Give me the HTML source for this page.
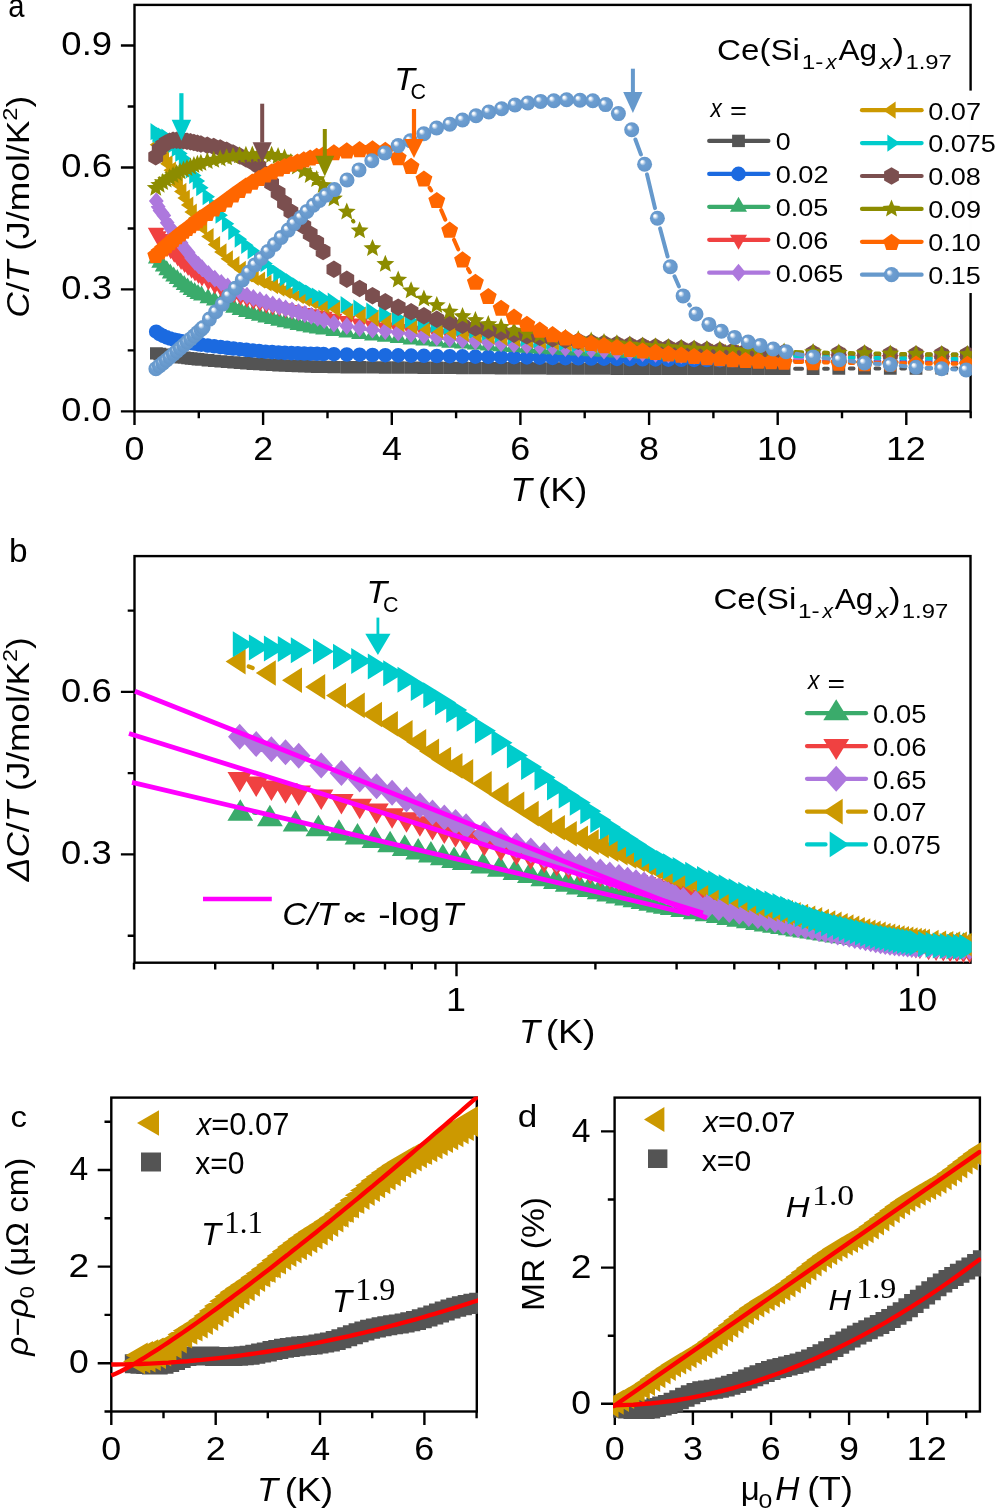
<!DOCTYPE html>
<html><head><meta charset="utf-8"><title>figure</title>
<style>html,body{margin:0;padding:0;background:#fff;}svg{display:block;}.tx{opacity:0.999}</style></head>
<body>
<svg width="1000" height="1509" viewBox="0 0 1000 1509" font-family="Liberation Sans, sans-serif" fill="#000">
<rect width="1000" height="1509" fill="#fff"/>
<defs>
<radialGradient id="sph" cx="0.5" cy="0.5" r="0.5" fx="0.3" fy="0.31"><stop offset="0" stop-color="#ffffff"/><stop offset="0.14" stop-color="#f6f9fc"/><stop offset="0.42" stop-color="#6d9ed1"/><stop offset="1" stop-color="#6496ca"/></radialGradient>
<clipPath id="ca"><rect x="133.3" y="3.7" width="838.6" height="408.9"/></clipPath>
<clipPath id="cb"><rect x="133.3" y="554.9" width="838.4" height="409"/></clipPath>
<clipPath id="cc"><rect x="110.1" y="1096.4" width="367.9" height="316.3"/></clipPath>
<clipPath id="cd"><rect x="613.0" y="1096.4" width="368.1" height="325"/></clipPath>
</defs>
<g fill="none" stroke="#000" stroke-width="2.4">
<rect x="134.5" y="4.9" width="836.1" height="406.5"/>
<path d="M134.5 411.4v13.6M198.8 411.4v6.8M263.1 411.4v13.6M327.5 411.4v6.8M391.8 411.4v13.6M456.1 411.4v6.8M520.4 411.4v13.6M584.7 411.4v6.8M649.1 411.4v13.6M713.4 411.4v6.8M777.7 411.4v13.6M842 411.4v6.8M906.3 411.4v13.6M970.7 411.4v6.8M134.5 411.4h-13.6M134.5 350.4h-6.8M134.5 289.4h-13.6M134.5 228.5h-6.8M134.5 167.5h-13.6M134.5 106.5h-6.8M134.5 45.5h-13.6"/>
</g>
<g fill="none" stroke="#000" stroke-width="2.4">
<rect x="134.5" y="556.1" width="836" height="406.6"/>
<path d="M134 962.7v6.8M215.2 962.7v6.8M272.9 962.7v6.8M317.6 962.7v6.8M354.1 962.7v6.8M385 962.7v6.8M411.8 962.7v6.8M435.4 962.7v6.8M456.5 962.7v13.6M595.4 962.7v6.8M676.6 962.7v6.8M734.3 962.7v6.8M779 962.7v6.8M815.5 962.7v6.8M846.4 962.7v6.8M873.2 962.7v6.8M896.8 962.7v6.8M917.9 962.7v13.6M134.5 935.7h-6.8M134.5 854.4h-13.6M134.5 773.1h-6.8M134.5 691.9h-13.6M134.5 610.6h-6.8"/>
</g>
<g fill="none" stroke="#000" stroke-width="2.4">
<rect x="111.3" y="1097.6" width="365.5" height="313.9"/>
<path d="M111.3 1411.5v13.6M163.5 1411.5v6.8M215.7 1411.5v13.6M267.8 1411.5v6.8M320 1411.5v13.6M372.2 1411.5v6.8M424.4 1411.5v13.6M476.6 1411.5v6.8M111.3 1411.5h-6.8M111.3 1363.2h-13.6M111.3 1314.9h-6.8M111.3 1266.6h-13.6M111.3 1218.3h-6.8M111.3 1170h-13.6M111.3 1121.7h-6.8"/>
</g>
<g fill="none" stroke="#000" stroke-width="2.4">
<rect x="614.6" y="1097.6" width="365.3" height="313.9"/>
<path d="M614.8 1411.5v13.6M653.8 1411.5v6.8M692.9 1411.5v13.6M731.9 1411.5v6.8M771 1411.5v13.6M810 1411.5v6.8M849.1 1411.5v13.6M888.1 1411.5v6.8M927.2 1411.5v13.6M966.2 1411.5v6.8M614.6 1403.8h-13.6M614.6 1335.7h-6.8M614.6 1267.6h-13.6M614.6 1199.5h-6.8M614.6 1131.4h-13.6"/>
</g>
<g clip-path="url(#ca)">
<path d="M795.1 368.7L802.1 368.7M824.1 368.7L827.8 368.7M849.8 368.6L853.5 368.6M875.5 368.6L879.3 368.6M901.3 368.5L905 368.5M927 368.4L930.7 368.4M952.7 368.4L956.4 368.3" fill="none" stroke="#545454" stroke-width="4" stroke-linecap="round"/>
<path d="M150 347.2h12.8v12.4h-12.8zM153.4 347.8h12.8v12.4h-12.8zM156.9 348.4h12.8v12.4h-12.8zM160.4 349h12.8v12.4h-12.8zM163.9 349.5h12.8v12.4h-12.8zM167.3 350h12.8v12.4h-12.8zM170.8 350.5h12.8v12.4h-12.8zM174.3 351h12.8v12.4h-12.8zM177.8 351.4h12.8v12.4h-12.8zM181.2 351.9h12.8v12.4h-12.8zM184.7 352.3h12.8v12.4h-12.8zM188.2 352.7h12.8v12.4h-12.8zM191.6 353.1h12.8v12.4h-12.8zM195.1 353.4h12.8v12.4h-12.8zM201.6 354.1h12.8v12.4h-12.8zM208 354.7h12.8v12.4h-12.8zM214.4 355.2h12.8v12.4h-12.8zM220.8 355.7h12.8v12.4h-12.8zM227.3 356.2h12.8v12.4h-12.8zM233.7 356.7h12.8v12.4h-12.8zM240.1 357.1h12.8v12.4h-12.8zM246.6 357.5h12.8v12.4h-12.8zM253 357.9h12.8v12.4h-12.8zM259.4 358.3h12.8v12.4h-12.8zM265.9 358.7h12.8v12.4h-12.8zM272.3 359h12.8v12.4h-12.8zM278.7 359.3h12.8v12.4h-12.8zM285.2 359.5h12.8v12.4h-12.8zM291.6 359.8h12.8v12.4h-12.8zM298 360.1h12.8v12.4h-12.8zM304.5 360.3h12.8v12.4h-12.8zM310.9 360.5h12.8v12.4h-12.8zM317.3 360.7h12.8v12.4h-12.8zM327.5 360.9h12.8v12.4h-12.8zM340.4 361h12.8v12.4h-12.8zM353.2 361.1h12.8v12.4h-12.8zM366.1 361.2h12.8v12.4h-12.8zM378.9 361.3h12.8v12.4h-12.8zM391.8 361.3h12.8v12.4h-12.8zM404.7 361.4h12.8v12.4h-12.8zM417.5 361.5h12.8v12.4h-12.8zM430.4 361.6h12.8v12.4h-12.8zM443.3 361.7h12.8v12.4h-12.8zM456.1 361.8h12.8v12.4h-12.8zM469 361.9h12.8v12.4h-12.8zM481.9 361.9h12.8v12.4h-12.8zM494.7 362h12.8v12.4h-12.8zM507.6 362.1h12.8v12.4h-12.8zM520.5 362.1h12.8v12.4h-12.8zM533.3 362.2h12.8v12.4h-12.8zM546.2 362.3h12.8v12.4h-12.8zM559 362.3h12.8v12.4h-12.8zM571.9 362.4h12.8v12.4h-12.8zM584.8 362.4h12.8v12.4h-12.8zM597.6 362.4h12.8v12.4h-12.8zM610.5 362.5h12.8v12.4h-12.8zM623.4 362.5h12.8v12.4h-12.8zM636.2 362.5h12.8v12.4h-12.8zM649.1 362.5h12.8v12.4h-12.8zM662 362.5h12.8v12.4h-12.8zM674.8 362.5h12.8v12.4h-12.8zM687.7 362.5h12.8v12.4h-12.8zM700.5 362.5h12.8v12.4h-12.8zM713.4 362.5h12.8v12.4h-12.8zM726.3 362.5h12.8v12.4h-12.8zM739.1 362.5h12.8v12.4h-12.8zM752 362.5h12.8v12.4h-12.8zM764.9 362.5h12.8v12.4h-12.8zM777.7 362.5h12.8v12.4h-12.8zM806.7 362.5h12.8v12.4h-12.8zM832.4 362.4h12.8v12.4h-12.8zM858.1 362.4h12.8v12.4h-12.8zM883.9 362.3h12.8v12.4h-12.8zM909.6 362.3h12.8v12.4h-12.8zM935.3 362.2h12.8v12.4h-12.8zM961 362.1h12.8v12.4h-12.8z" fill="#545454"/>
<path d="M795.1 360.6L802.1 360.7M824.1 360.7L827.8 360.8M849.8 360.8L853.5 360.8M875.5 360.9L879.3 360.9M901.3 360.9L905 360.9M927 361L930.7 361M952.7 361L956.4 361" fill="none" stroke="#1b6ae0" stroke-width="4" stroke-linecap="round"/>
<path d="M148.9 331.7a7.3 7.3 0 1 0 14.6 0a7.3 7.3 0 1 0 -14.6 0zM152.3 334a7.3 7.3 0 1 0 14.6 0a7.3 7.3 0 1 0 -14.6 0zM155.8 335.9a7.3 7.3 0 1 0 14.6 0a7.3 7.3 0 1 0 -14.6 0zM159.3 337.4a7.3 7.3 0 1 0 14.6 0a7.3 7.3 0 1 0 -14.6 0zM162.8 338.5a7.3 7.3 0 1 0 14.6 0a7.3 7.3 0 1 0 -14.6 0zM166.2 339.5a7.3 7.3 0 1 0 14.6 0a7.3 7.3 0 1 0 -14.6 0zM169.7 340.3a7.3 7.3 0 1 0 14.6 0a7.3 7.3 0 1 0 -14.6 0zM173.2 341a7.3 7.3 0 1 0 14.6 0a7.3 7.3 0 1 0 -14.6 0zM176.7 341.7a7.3 7.3 0 1 0 14.6 0a7.3 7.3 0 1 0 -14.6 0zM180.1 342.3a7.3 7.3 0 1 0 14.6 0a7.3 7.3 0 1 0 -14.6 0zM183.6 342.9a7.3 7.3 0 1 0 14.6 0a7.3 7.3 0 1 0 -14.6 0zM187.1 343.5a7.3 7.3 0 1 0 14.6 0a7.3 7.3 0 1 0 -14.6 0zM190.6 344.1a7.3 7.3 0 1 0 14.6 0a7.3 7.3 0 1 0 -14.6 0zM194 344.6a7.3 7.3 0 1 0 14.6 0a7.3 7.3 0 1 0 -14.6 0zM200.5 345.5a7.3 7.3 0 1 0 14.6 0a7.3 7.3 0 1 0 -14.6 0zM206.9 346.3a7.3 7.3 0 1 0 14.6 0a7.3 7.3 0 1 0 -14.6 0zM213.3 347a7.3 7.3 0 1 0 14.6 0a7.3 7.3 0 1 0 -14.6 0zM219.8 347.8a7.3 7.3 0 1 0 14.6 0a7.3 7.3 0 1 0 -14.6 0zM226.2 348.5a7.3 7.3 0 1 0 14.6 0a7.3 7.3 0 1 0 -14.6 0zM232.6 349.2a7.3 7.3 0 1 0 14.6 0a7.3 7.3 0 1 0 -14.6 0zM239.1 349.9a7.3 7.3 0 1 0 14.6 0a7.3 7.3 0 1 0 -14.6 0zM245.5 350.5a7.3 7.3 0 1 0 14.6 0a7.3 7.3 0 1 0 -14.6 0zM251.9 351.1a7.3 7.3 0 1 0 14.6 0a7.3 7.3 0 1 0 -14.6 0zM258.3 351.7a7.3 7.3 0 1 0 14.6 0a7.3 7.3 0 1 0 -14.6 0zM264.8 352.1a7.3 7.3 0 1 0 14.6 0a7.3 7.3 0 1 0 -14.6 0zM271.2 352.5a7.3 7.3 0 1 0 14.6 0a7.3 7.3 0 1 0 -14.6 0zM277.6 352.9a7.3 7.3 0 1 0 14.6 0a7.3 7.3 0 1 0 -14.6 0zM284.1 353.1a7.3 7.3 0 1 0 14.6 0a7.3 7.3 0 1 0 -14.6 0zM290.5 353.3a7.3 7.3 0 1 0 14.6 0a7.3 7.3 0 1 0 -14.6 0zM296.9 353.5a7.3 7.3 0 1 0 14.6 0a7.3 7.3 0 1 0 -14.6 0zM303.4 353.7a7.3 7.3 0 1 0 14.6 0a7.3 7.3 0 1 0 -14.6 0zM309.8 353.8a7.3 7.3 0 1 0 14.6 0a7.3 7.3 0 1 0 -14.6 0zM316.2 354a7.3 7.3 0 1 0 14.6 0a7.3 7.3 0 1 0 -14.6 0zM326.6 354.2a7.3 7.3 0 1 0 14.6 0a7.3 7.3 0 1 0 -14.6 0zM339.5 354.5a7.3 7.3 0 1 0 14.6 0a7.3 7.3 0 1 0 -14.6 0zM352.3 354.7a7.3 7.3 0 1 0 14.6 0a7.3 7.3 0 1 0 -14.6 0zM365.2 355a7.3 7.3 0 1 0 14.6 0a7.3 7.3 0 1 0 -14.6 0zM378 355.2a7.3 7.3 0 1 0 14.6 0a7.3 7.3 0 1 0 -14.6 0zM390.9 355.4a7.3 7.3 0 1 0 14.6 0a7.3 7.3 0 1 0 -14.6 0zM403.8 355.6a7.3 7.3 0 1 0 14.6 0a7.3 7.3 0 1 0 -14.6 0zM416.6 355.8a7.3 7.3 0 1 0 14.6 0a7.3 7.3 0 1 0 -14.6 0zM429.5 356a7.3 7.3 0 1 0 14.6 0a7.3 7.3 0 1 0 -14.6 0zM442.4 356.2a7.3 7.3 0 1 0 14.6 0a7.3 7.3 0 1 0 -14.6 0zM455.2 356.4a7.3 7.3 0 1 0 14.6 0a7.3 7.3 0 1 0 -14.6 0zM468.1 356.6a7.3 7.3 0 1 0 14.6 0a7.3 7.3 0 1 0 -14.6 0zM481 356.8a7.3 7.3 0 1 0 14.6 0a7.3 7.3 0 1 0 -14.6 0zM493.8 357a7.3 7.3 0 1 0 14.6 0a7.3 7.3 0 1 0 -14.6 0zM506.7 357.2a7.3 7.3 0 1 0 14.6 0a7.3 7.3 0 1 0 -14.6 0zM519.6 357.4a7.3 7.3 0 1 0 14.6 0a7.3 7.3 0 1 0 -14.6 0zM532.4 357.6a7.3 7.3 0 1 0 14.6 0a7.3 7.3 0 1 0 -14.6 0zM545.3 357.9a7.3 7.3 0 1 0 14.6 0a7.3 7.3 0 1 0 -14.6 0zM558.1 358.1a7.3 7.3 0 1 0 14.6 0a7.3 7.3 0 1 0 -14.6 0zM571 358.3a7.3 7.3 0 1 0 14.6 0a7.3 7.3 0 1 0 -14.6 0zM583.9 358.5a7.3 7.3 0 1 0 14.6 0a7.3 7.3 0 1 0 -14.6 0zM596.7 358.7a7.3 7.3 0 1 0 14.6 0a7.3 7.3 0 1 0 -14.6 0zM609.6 358.9a7.3 7.3 0 1 0 14.6 0a7.3 7.3 0 1 0 -14.6 0zM622.5 359.1a7.3 7.3 0 1 0 14.6 0a7.3 7.3 0 1 0 -14.6 0zM635.3 359.3a7.3 7.3 0 1 0 14.6 0a7.3 7.3 0 1 0 -14.6 0zM648.2 359.4a7.3 7.3 0 1 0 14.6 0a7.3 7.3 0 1 0 -14.6 0zM661.1 359.6a7.3 7.3 0 1 0 14.6 0a7.3 7.3 0 1 0 -14.6 0zM673.9 359.8a7.3 7.3 0 1 0 14.6 0a7.3 7.3 0 1 0 -14.6 0zM686.8 359.9a7.3 7.3 0 1 0 14.6 0a7.3 7.3 0 1 0 -14.6 0zM699.6 360a7.3 7.3 0 1 0 14.6 0a7.3 7.3 0 1 0 -14.6 0zM712.5 360.2a7.3 7.3 0 1 0 14.6 0a7.3 7.3 0 1 0 -14.6 0zM725.4 360.3a7.3 7.3 0 1 0 14.6 0a7.3 7.3 0 1 0 -14.6 0zM738.2 360.4a7.3 7.3 0 1 0 14.6 0a7.3 7.3 0 1 0 -14.6 0zM751.1 360.5a7.3 7.3 0 1 0 14.6 0a7.3 7.3 0 1 0 -14.6 0zM764 360.6a7.3 7.3 0 1 0 14.6 0a7.3 7.3 0 1 0 -14.6 0zM776.8 360.6a7.3 7.3 0 1 0 14.6 0a7.3 7.3 0 1 0 -14.6 0zM805.8 360.7a7.3 7.3 0 1 0 14.6 0a7.3 7.3 0 1 0 -14.6 0zM831.5 360.8a7.3 7.3 0 1 0 14.6 0a7.3 7.3 0 1 0 -14.6 0zM857.2 360.9a7.3 7.3 0 1 0 14.6 0a7.3 7.3 0 1 0 -14.6 0zM883 360.9a7.3 7.3 0 1 0 14.6 0a7.3 7.3 0 1 0 -14.6 0zM908.7 361a7.3 7.3 0 1 0 14.6 0a7.3 7.3 0 1 0 -14.6 0zM934.4 361a7.3 7.3 0 1 0 14.6 0a7.3 7.3 0 1 0 -14.6 0zM960.1 361a7.3 7.3 0 1 0 14.6 0a7.3 7.3 0 1 0 -14.6 0z" fill="#1b6ae0"/>
<path d="M795.1 354.7L802.1 354.8M824.1 355.1L827.8 355.1M849.8 355.4L853.5 355.4M875.5 355.6L879.3 355.6M901.3 355.8L905 355.8M927 355.9L930.7 355.9M952.7 356L956.4 356.1" fill="none" stroke="#3aab6b" stroke-width="4" stroke-linecap="round"/>
<path d="M156.4 248.6L164.9 263.6L147.9 263.6zM159.8 252.7L168.3 267.7L151.3 267.7zM163.3 256.6L171.8 271.6L154.8 271.6zM166.8 260.3L175.3 275.3L158.3 275.3zM170.3 263.6L178.8 278.6L161.8 278.6zM173.7 266.4L182.2 281.4L165.2 281.4zM177.2 269.1L185.7 284.1L168.7 284.1zM180.7 272.2L189.2 287.2L172.2 287.2zM184.2 275.1L192.7 290.1L175.7 290.1zM187.6 277.6L196.1 292.6L179.1 292.6zM191.1 279.9L199.6 294.9L182.6 294.9zM194.6 282L203.1 297L186.1 297zM198 284L206.5 299L189.5 299zM201.5 285.6L210 300.6L193 300.6zM208 288.2L216.5 303.2L199.5 303.2zM214.4 290.6L222.9 305.6L205.9 305.6zM220.8 293L229.3 308L212.3 308zM227.2 295.4L235.7 310.4L218.7 310.4zM233.7 297.7L242.2 312.7L225.2 312.7zM240.1 299.9L248.6 314.9L231.6 314.9zM246.5 301.9L255 316.9L238 316.9zM253 303.9L261.5 318.9L244.5 318.9zM259.4 305.7L267.9 320.7L250.9 320.7zM265.8 307.5L274.3 322.5L257.3 322.5zM272.3 309.1L280.8 324.1L263.8 324.1zM278.7 310.7L287.2 325.7L270.2 325.7zM285.1 312.2L293.6 327.2L276.6 327.2zM291.6 313.6L300.1 328.6L283.1 328.6zM298 314.9L306.5 329.9L289.5 329.9zM304.4 316.2L312.9 331.2L295.9 331.2zM310.9 317.4L319.4 332.4L302.4 332.4zM317.3 318.4L325.8 333.4L308.8 333.4zM323.7 319.4L332.2 334.4L315.2 334.4zM333.9 320.9L342.4 335.9L325.4 335.9zM346.8 322.5L355.3 337.5L338.3 337.5zM359.6 324L368.1 339L351.1 339zM372.5 325.4L381 340.4L364 340.4zM385.3 326.8L393.8 341.8L376.8 341.8zM398.2 328.1L406.7 343.1L389.7 343.1zM411.1 329.4L419.6 344.4L402.6 344.4zM423.9 330.5L432.4 345.5L415.4 345.5zM436.8 331.6L445.3 346.6L428.3 346.6zM449.7 332.7L458.2 347.7L441.2 347.7zM462.5 333.6L471 348.6L454 348.6zM475.4 334.5L483.9 349.5L466.9 349.5zM488.3 335.4L496.8 350.4L479.8 350.4zM501.1 336.2L509.6 351.2L492.6 351.2zM514 337L522.5 352L505.5 352zM526.9 337.8L535.4 352.8L518.4 352.8zM539.7 338.6L548.2 353.6L531.2 353.6zM552.6 339.3L561.1 354.3L544.1 354.3zM565.4 339.9L573.9 354.9L556.9 354.9zM578.3 340.6L586.8 355.6L569.8 355.6zM591.2 341.2L599.7 356.2L582.7 356.2zM604 341.8L612.5 356.8L595.5 356.8zM616.9 342.4L625.4 357.4L608.4 357.4zM629.8 342.9L638.3 357.9L621.3 357.9zM642.6 343.5L651.1 358.5L634.1 358.5zM655.5 344L664 359L647 359zM668.4 344.5L676.9 359.5L659.9 359.5zM681.2 344.9L689.7 359.9L672.7 359.9zM694.1 345.3L702.6 360.3L685.6 360.3zM706.9 345.6L715.4 360.6L698.4 360.6zM719.8 345.9L728.3 360.9L711.3 360.9zM732.7 346.2L741.2 361.2L724.2 361.2zM745.5 346.4L754 361.4L737 361.4zM758.4 346.7L766.9 361.7L749.9 361.7zM771.3 346.9L779.8 361.9L762.8 361.9zM784.1 347.1L792.6 362.1L775.6 362.1zM813.1 347.5L821.6 362.5L804.6 362.5zM838.8 347.8L847.3 362.8L830.3 362.8zM864.5 348L873 363L856 363zM890.3 348.2L898.8 363.2L881.8 363.2zM916 348.4L924.5 363.4L907.5 363.4zM941.7 348.5L950.2 363.5L933.2 363.5zM967.4 348.6L975.9 363.6L958.9 363.6z" fill="#3aab6b"/>
<path d="M795.1 360.6L802.1 360.8M824.1 361.4L827.8 361.5M849.8 361.9L853.5 362M875.5 362.4L879.3 362.4M901.3 362.8L905 362.8M927 363.1L930.7 363.1M952.7 363.3L956.4 363.3" fill="none" stroke="#f04141" stroke-width="4" stroke-linecap="round"/>
<path d="M156.3 242.7L164.8 227.7L147.8 227.7zM158.2 246.3L166.7 231.3L149.7 231.3zM160 249.1L168.5 234.1L151.5 234.1zM161.9 251.3L170.4 236.3L153.4 236.3zM163.8 252.9L172.3 237.9L155.3 237.9zM167.2 255.8L175.7 240.8L158.7 240.8zM170.7 259.3L179.2 244.3L162.2 244.3zM174.2 262.8L182.7 247.8L165.7 247.8zM177.7 266.5L186.2 251.5L169.2 251.5zM181.1 270L189.6 255L172.6 255zM184.6 273.1L193.1 258.1L176.1 258.1zM188.1 276L196.6 261L179.6 261zM191.6 278.8L200.1 263.8L183.1 263.8zM195 281.5L203.5 266.5L186.5 266.5zM198.5 284.1L207 269.1L190 269.1zM202 286.5L210.5 271.5L193.5 271.5zM208.4 290.6L216.9 275.6L199.9 275.6zM214.8 294.4L223.3 279.4L206.3 279.4zM221.3 297.7L229.8 282.7L212.8 282.7zM227.7 300.7L236.2 285.7L219.2 285.7zM234.1 303.3L242.6 288.3L225.6 288.3zM240.6 305.7L249.1 290.7L232.1 290.7zM247 307.9L255.5 292.9L238.5 292.9zM253.4 310L261.9 295L244.9 295zM259.9 311.9L268.4 296.9L251.4 296.9zM266.3 313.7L274.8 298.7L257.8 298.7zM272.7 315.4L281.2 300.4L264.2 300.4zM279.2 317.1L287.7 302.1L270.7 302.1zM285.6 318.6L294.1 303.6L277.1 303.6zM292 320.1L300.5 305.1L283.5 305.1zM298.5 321.5L307 306.5L290 306.5zM304.9 322.9L313.4 307.9L296.4 307.9zM311.3 324.2L319.8 309.2L302.8 309.2zM317.7 325.5L326.2 310.5L309.2 310.5zM324.2 326.8L332.7 311.8L315.7 311.8zM333.9 328.7L342.4 313.7L325.4 313.7zM346.8 331.1L355.3 316.1L338.3 316.1zM359.6 333.5L368.1 318.5L351.1 318.5zM372.5 335.6L381 320.6L364 320.6zM385.3 337.4L393.8 322.4L376.8 322.4zM398.2 339.1L406.7 324.1L389.7 324.1zM411.1 340.7L419.6 325.7L402.6 325.7zM423.9 342.2L432.4 327.2L415.4 327.2zM436.8 343.7L445.3 328.7L428.3 328.7zM449.7 345.1L458.2 330.1L441.2 330.1zM462.5 346.4L471 331.4L454 331.4zM475.4 347.6L483.9 332.6L466.9 332.6zM488.3 348.9L496.8 333.9L479.8 333.9zM501.1 350L509.6 335L492.6 335zM514 351.2L522.5 336.2L505.5 336.2zM526.9 352.2L535.4 337.2L518.4 337.2zM539.7 353.3L548.2 338.3L531.2 338.3zM552.6 354.3L561.1 339.3L544.1 339.3zM565.4 355.3L573.9 340.3L556.9 340.3zM578.3 356.2L586.8 341.2L569.8 341.2zM591.2 357.2L599.7 342.2L582.7 342.2zM604 358.1L612.5 343.1L595.5 343.1zM616.9 359L625.4 344L608.4 344zM629.8 359.9L638.3 344.9L621.3 344.9zM642.6 360.8L651.1 345.8L634.1 345.8zM655.5 361.6L664 346.6L647 346.6zM668.4 362.4L676.9 347.4L659.9 347.4zM681.2 363.2L689.7 348.2L672.7 348.2zM694.1 363.9L702.6 348.9L685.6 348.9zM706.9 364.5L715.4 349.5L698.4 349.5zM719.8 365.1L728.3 350.1L711.3 350.1zM732.7 365.7L741.2 350.7L724.2 350.7zM745.5 366.2L754 351.2L737 351.2zM758.4 366.8L766.9 351.8L749.9 351.8zM771.3 367.3L779.8 352.3L762.8 352.3zM784.1 367.7L792.6 352.7L775.6 352.7zM813.1 368.6L821.6 353.6L804.6 353.6zM838.8 369.2L847.3 354.2L830.3 354.2zM864.5 369.7L873 354.7L856 354.7zM890.3 370.1L898.8 355.1L881.8 355.1zM916 370.5L924.5 355.5L907.5 355.5zM941.7 370.7L950.2 355.7L933.2 355.7zM967.4 370.9L975.9 355.9L958.9 355.9z" fill="#f04141"/>
<path d="M795.1 357.7L802.1 357.8M824.1 358L827.8 358M849.8 358.2L853.5 358.2M875.5 358.4L879.3 358.4M901.3 358.6L905 358.6M927 358.7L930.7 358.8M952.7 358.9L956.4 358.9" fill="none" stroke="#ad78dd" stroke-width="4" stroke-linecap="round"/>
<path d="M156.3 192.2L163.7 201.1L156.3 210L148.9 201.1zM158.2 197.8L165.6 206.7L158.2 215.6L150.8 206.7zM160 201.6L167.4 210.5L160 219.4L152.6 210.5zM161.9 203.9L169.3 212.8L161.9 221.7L154.5 212.8zM163.8 206.5L171.2 215.4L163.8 224.3L156.4 215.4zM167.2 213.8L174.6 222.7L167.2 231.6L159.8 222.7zM170.7 219.4L178.1 228.3L170.7 237.2L163.3 228.3zM174.2 224.3L181.6 233.2L174.2 242.1L166.8 233.2zM177.7 229.4L185.1 238.3L177.7 247.2L170.3 238.3zM181.1 234.2L188.5 243.1L181.1 252L173.7 243.1zM184.6 239.4L192 248.3L184.6 257.2L177.2 248.3zM188.1 243.7L195.5 252.6L188.1 261.5L180.7 252.6zM191.6 249L199 257.9L191.6 266.8L184.2 257.9zM195 252.9L202.4 261.8L195 270.7L187.6 261.8zM198.5 256.1L205.9 265L198.5 273.9L191.1 265zM202 259.3L209.4 268.2L202 277.1L194.6 268.2zM208.4 265L215.8 273.9L208.4 282.8L201 273.9zM214.8 269.8L222.2 278.7L214.8 287.6L207.4 278.7zM221.3 273.9L228.7 282.8L221.3 291.7L213.9 282.8zM227.7 277.6L235.1 286.5L227.7 295.4L220.3 286.5zM234.1 281L241.5 289.9L234.1 298.8L226.7 289.9zM240.6 284L248 292.9L240.6 301.8L233.2 292.9zM247 286.7L254.4 295.6L247 304.5L239.6 295.6zM253.4 289.1L260.8 298L253.4 306.9L246 298zM259.9 291.3L267.3 300.2L259.9 309.1L252.5 300.2zM266.3 293.5L273.7 302.4L266.3 311.3L258.9 302.4zM272.7 295.5L280.1 304.4L272.7 313.3L265.3 304.4zM279.2 297.6L286.6 306.5L279.2 315.4L271.8 306.5zM285.6 299.5L293 308.4L285.6 317.3L278.2 308.4zM292 301.4L299.4 310.3L292 319.2L284.6 310.3zM298.5 303.2L305.9 312.1L298.5 321L291.1 312.1zM304.9 305.1L312.3 314L304.9 322.9L297.5 314zM311.3 307L318.7 315.9L311.3 324.8L303.9 315.9zM317.7 309L325.1 317.9L317.7 326.8L310.3 317.9zM324.2 311.3L331.6 320.2L324.2 329.1L316.8 320.2zM333.9 314.7L341.3 323.6L333.9 332.5L326.5 323.6zM346.8 317.2L354.2 326.1L346.8 335L339.4 326.1zM359.6 319.2L367 328.1L359.6 337L352.2 328.1zM372.5 320.8L379.9 329.7L372.5 338.6L365.1 329.7zM385.3 322.2L392.7 331.1L385.3 340L377.9 331.1zM398.2 323.6L405.6 332.5L398.2 341.4L390.8 332.5zM411.1 325.2L418.5 334.1L411.1 343L403.7 334.1zM423.9 326.8L431.3 335.7L423.9 344.6L416.5 335.7zM436.8 328.4L444.2 337.3L436.8 346.2L429.4 337.3zM449.7 329.9L457.1 338.8L449.7 347.7L442.3 338.8zM462.5 331.2L469.9 340.1L462.5 349L455.1 340.1zM475.4 332.3L482.8 341.2L475.4 350.1L468 341.2zM488.3 333.5L495.7 342.4L488.3 351.3L480.9 342.4zM501.1 334.5L508.5 343.4L501.1 352.3L493.7 343.4zM514 335.5L521.4 344.4L514 353.3L506.6 344.4zM526.9 336.4L534.3 345.3L526.9 354.2L519.5 345.3zM539.7 337.3L547.1 346.2L539.7 355.1L532.3 346.2zM552.6 338.2L560 347.1L552.6 356L545.2 347.1zM565.4 339.1L572.8 348L565.4 356.9L558 348zM578.3 339.9L585.7 348.8L578.3 357.7L570.9 348.8zM591.2 340.8L598.6 349.7L591.2 358.6L583.8 349.7zM604 341.7L611.4 350.6L604 359.5L596.6 350.6zM616.9 342.6L624.3 351.5L616.9 360.4L609.5 351.5zM629.8 343.4L637.2 352.3L629.8 361.2L622.4 352.3zM642.6 344.3L650 353.2L642.6 362.1L635.2 353.2zM655.5 345L662.9 353.9L655.5 362.8L648.1 353.9zM668.4 345.7L675.8 354.6L668.4 363.5L661 354.6zM681.2 346.3L688.6 355.2L681.2 364.1L673.8 355.2zM694.1 346.9L701.5 355.8L694.1 364.7L686.7 355.8zM706.9 347.3L714.3 356.2L706.9 365.1L699.5 356.2zM719.8 347.6L727.2 356.5L719.8 365.4L712.4 356.5zM732.7 347.9L740.1 356.8L732.7 365.7L725.3 356.8zM745.5 348.1L752.9 357L745.5 365.9L738.1 357zM758.4 348.3L765.8 357.2L758.4 366.1L751 357.2zM771.3 348.5L778.7 357.4L771.3 366.3L763.9 357.4zM784.1 348.7L791.5 357.6L784.1 366.5L776.7 357.6zM813.1 349L820.5 357.9L813.1 366.8L805.7 357.9zM838.8 349.2L846.2 358.1L838.8 367L831.4 358.1zM864.5 349.4L871.9 358.3L864.5 367.2L857.1 358.3zM890.3 349.6L897.7 358.5L890.3 367.4L882.9 358.5zM916 349.8L923.4 358.7L916 367.6L908.6 358.7zM941.7 349.9L949.1 358.8L941.7 367.7L934.3 358.8zM967.4 350L974.8 358.9L967.4 367.8L960 358.9z" fill="#ad78dd"/>
<path d="M795.1 355.1L802.1 355.3M824.1 355.8L827.8 355.9M849.8 356.2L853.5 356.3M875.5 356.6L879.3 356.6M901.3 356.9L905 356.9M927 357.1L930.7 357.1M952.7 357.2L956.4 357.3" fill="none" stroke="#cc9900" stroke-width="4" stroke-linecap="round"/>
<path d="M149.7 144.7L162.1 136.1L162.1 153.3zM153.1 153.3L165.5 144.7L165.5 161.9zM156.6 158.7L169 150.1L169 167.3zM160.1 163.7L172.5 155.1L172.5 172.3zM163.5 170.2L175.9 161.6L175.9 178.8zM167 177.6L179.4 169L179.4 186.2zM170.5 184.4L182.9 175.8L182.9 193zM174 191.4L186.4 182.8L186.4 200zM177.4 198.1L189.8 189.5L189.8 206.7zM180.9 205L193.3 196.4L193.3 213.6zM184.4 212L196.8 203.4L196.8 220.6zM187.9 218.2L200.3 209.6L200.3 226.8zM191.3 223L203.7 214.4L203.7 231.6zM194.8 227.5L207.2 218.9L207.2 236.1zM201.2 236.5L213.6 227.9L213.6 245.1zM207.7 244.6L220.1 236L220.1 253.2zM214.1 251.9L226.5 243.3L226.5 260.5zM220.5 258.8L232.9 250.2L232.9 267.4zM227 264.6L239.4 256L239.4 273.2zM233.4 269.4L245.8 260.8L245.8 278zM239.8 274L252.2 265.4L252.2 282.6zM246.3 277.3L258.7 268.7L258.7 285.9zM252.7 280.2L265.1 271.6L265.1 288.8zM259.1 283L271.5 274.4L271.5 291.6zM265.6 285.6L278 277L278 294.2zM272 288.1L284.4 279.5L284.4 296.7zM278.4 290.6L290.8 282L290.8 299.2zM284.9 293.1L297.3 284.5L297.3 301.7zM291.3 295.6L303.7 287L303.7 304.2zM297.7 298.3L310.1 289.7L310.1 306.9zM304.2 300.9L316.6 292.3L316.6 309.5zM310.6 303.4L323 294.8L323 312zM317 305.6L329.4 297L329.4 314.2zM327.7 308.6L340.1 300L340.1 317.2zM340.6 311.9L353 303.3L353 320.5zM353.4 315.1L365.8 306.5L365.8 323.7zM366.3 318.1L378.7 309.5L378.7 326.7zM379.1 320.9L391.5 312.3L391.5 329.5zM392 323.6L404.4 315L404.4 332.2zM404.9 326.2L417.3 317.6L417.3 334.8zM417.7 328.4L430.1 319.8L430.1 337zM430.6 330.2L443 321.6L443 338.8zM443.5 331.8L455.9 323.2L455.9 340.4zM456.3 333.3L468.7 324.7L468.7 341.9zM469.2 334.7L481.6 326.1L481.6 343.3zM482.1 336.1L494.5 327.5L494.5 344.7zM494.9 337.3L507.3 328.7L507.3 345.9zM507.8 338.6L520.2 330L520.2 347.2zM520.7 339.8L533.1 331.2L533.1 348.4zM533.5 340.9L545.9 332.3L545.9 349.5zM546.4 342L558.8 333.4L558.8 350.6zM559.2 343L571.6 334.4L571.6 351.6zM572.1 344L584.5 335.4L584.5 352.6zM585 345L597.4 336.4L597.4 353.6zM597.8 346L610.2 337.4L610.2 354.6zM610.7 346.9L623.1 338.3L623.1 355.5zM623.6 347.8L636 339.2L636 356.4zM636.4 348.7L648.8 340.1L648.8 357.3zM649.3 349.5L661.7 340.9L661.7 358.1zM662.2 350.3L674.6 341.7L674.6 358.9zM675 351L687.4 342.4L687.4 359.6zM687.9 351.6L700.3 343L700.3 360.2zM700.7 352.2L713.1 343.6L713.1 360.8zM713.6 352.7L726 344.1L726 361.3zM726.5 353.2L738.9 344.6L738.9 361.8zM739.3 353.7L751.7 345.1L751.7 362.3zM752.2 354.1L764.6 345.5L764.6 362.7zM765.1 354.5L777.5 345.9L777.5 363.1zM777.9 354.9L790.3 346.3L790.3 363.5zM806.9 355.6L819.3 347L819.3 364.2zM832.6 356.1L845 347.5L845 364.7zM858.3 356.4L870.7 347.8L870.7 365zM884.1 356.7L896.5 348.1L896.5 365.3zM909.8 357L922.2 348.4L922.2 365.6zM935.5 357.2L947.9 348.6L947.9 365.8zM961.2 357.3L973.6 348.7L973.6 365.9z" fill="#cc9900"/>
<path d="M795.1 356.1L802.1 356.3M824.1 356.9L827.8 357M849.8 357.5L853.5 357.5M875.5 357.9L879.3 358M901.3 358.3L905 358.3M927 358.6L930.7 358.6M952.7 358.8L956.4 358.9" fill="none" stroke="#00cccc" stroke-width="4" stroke-linecap="round"/>
<path d="M162.9 131.7L150.5 123.1L150.5 140.3zM164.8 134.1L152.4 125.5L152.4 142.7zM166.6 134.9L154.2 126.3L154.2 143.5zM168.5 135.3L156.1 126.7L156.1 143.9zM170.4 136.2L158 127.6L158 144.8zM173.8 137.2L161.4 128.6L161.4 145.8zM177.3 141L164.9 132.4L164.9 149.6zM180.8 144.4L168.4 135.8L168.4 153zM184.2 148.4L171.8 139.8L171.8 157zM187.7 153.4L175.3 144.8L175.3 162zM191.2 158.4L178.8 149.8L178.8 167zM194.7 164.4L182.3 155.8L182.3 173zM198.1 170L185.7 161.4L185.7 178.6zM201.6 175.5L189.2 166.9L189.2 184.1zM205.1 181.1L192.7 172.5L192.7 189.7zM208.6 187.7L196.2 179.1L196.2 196.3zM215 196.7L202.6 188.1L202.6 205.3zM221.4 205.6L209 197L209 214.2zM227.9 215.2L215.5 206.6L215.5 223.8zM234.3 223.8L221.9 215.2L221.9 232.4zM240.7 231.6L228.3 223L228.3 240.2zM247.1 239.2L234.7 230.6L234.7 247.8zM253.6 245.3L241.2 236.7L241.2 253.9zM260 250.7L247.6 242.1L247.6 259.3zM266.4 257.1L254 248.5L254 265.7zM272.9 263.7L260.5 255.1L260.5 272.3zM279.3 269L266.9 260.4L266.9 277.6zM285.7 273.6L273.3 265L273.3 282.2zM292.2 277.8L279.8 269.2L279.8 286.4zM298.6 281.9L286.2 273.3L286.2 290.5zM305 285.9L292.6 277.3L292.6 294.5zM311.5 289.7L299.1 281.1L299.1 298.3zM317.9 293L305.5 284.4L305.5 301.6zM324.3 296L311.9 287.4L311.9 304.6zM330.8 298.3L318.4 289.7L318.4 306.9zM340.1 301.2L327.7 292.6L327.7 309.8zM353 304.7L340.6 296.1L340.6 313.3zM365.8 308L353.4 299.4L353.4 316.6zM378.7 311.1L366.3 302.5L366.3 319.7zM391.5 314.1L379.1 305.5L379.1 322.7zM404.4 317.1L392 308.5L392 325.7zM417.3 319.8L404.9 311.2L404.9 328.4zM430.1 322.2L417.7 313.6L417.7 330.8zM443 324.3L430.6 315.7L430.6 332.9zM455.9 326.3L443.5 317.7L443.5 334.9zM468.7 328.2L456.3 319.6L456.3 336.8zM481.6 330.3L469.2 321.7L469.2 338.9zM494.5 332.3L482.1 323.7L482.1 340.9zM507.3 334.4L494.9 325.8L494.9 343zM520.2 336.3L507.8 327.7L507.8 344.9zM533.1 338.1L520.7 329.5L520.7 346.7zM545.9 339.8L533.5 331.2L533.5 348.4zM558.8 341.4L546.4 332.8L546.4 350zM571.6 342.7L559.2 334.1L559.2 351.3zM584.5 343.9L572.1 335.3L572.1 352.5zM597.4 345.1L585 336.5L585 353.7zM610.2 346.2L597.8 337.6L597.8 354.8zM623.1 347.2L610.7 338.6L610.7 355.8zM636 348.1L623.6 339.5L623.6 356.7zM648.8 349L636.4 340.4L636.4 357.6zM661.7 349.8L649.3 341.2L649.3 358.4zM674.6 350.6L662.2 342L662.2 359.2zM687.4 351.4L675 342.8L675 360zM700.3 352L687.9 343.4L687.9 360.6zM713.1 352.7L700.7 344.1L700.7 361.3zM726 353.3L713.6 344.7L713.6 361.9zM738.9 353.8L726.5 345.2L726.5 362.4zM751.7 354.4L739.3 345.8L739.3 363zM764.6 354.9L752.2 346.3L752.2 363.5zM777.5 355.4L765.1 346.8L765.1 364zM790.3 355.8L777.9 347.2L777.9 364.4zM819.3 356.7L806.9 348.1L806.9 365.3zM845 357.3L832.6 348.7L832.6 365.9zM870.7 357.7L858.3 349.1L858.3 366.3zM896.5 358.1L884.1 349.5L884.1 366.7zM922.2 358.5L909.8 349.9L909.8 367.1zM947.9 358.8L935.5 350.2L935.5 367.4zM973.6 358.9L961.2 350.3L961.2 367.5z" fill="#00cccc"/>
<path d="M795.1 352.8L802.1 352.9M824.1 353.3L827.8 353.3M849.8 353.6L853.5 353.7M875.5 353.9L879.3 354M901.3 354.2L905 354.2M927 354.4L930.7 354.4M952.7 354.5L956.4 354.5" fill="none" stroke="#7b4f4f" stroke-width="4" stroke-linecap="round"/>
<path d="M155.7 148.1L163.1 152.5L163.1 161.3L155.7 165.6L148.3 161.3L148.3 152.5zM159.2 140.5L166.6 144.9L166.6 153.7L159.2 158L151.8 153.7L151.8 144.9zM162.7 136.9L170.1 141.2L170.1 150L162.7 154.4L155.3 150L155.3 141.2zM166.1 134.2L173.5 138.6L173.5 147.4L166.1 151.7L158.7 147.4L158.7 138.6zM169.6 132.5L177 136.9L177 145.6L169.6 150L162.2 145.6L162.2 136.9zM173.1 131.6L180.5 136L180.5 144.7L173.1 149.1L165.7 144.7L165.7 136zM176.6 131.5L184 135.9L184 144.6L176.6 149L169.2 144.6L169.2 135.9zM180 131.8L187.4 136.1L187.4 144.9L180 149.3L172.6 144.9L172.6 136.1zM183.5 132.1L190.9 136.5L190.9 145.2L183.5 149.6L176.1 145.2L176.1 136.5zM187 132.5L194.4 136.9L194.4 145.6L187 150L179.6 145.6L179.6 136.9zM190.5 133.1L197.9 137.5L197.9 146.2L190.5 150.6L183.1 146.2L183.1 137.5zM193.9 133.8L201.3 138.2L201.3 147L193.9 151.3L186.5 147L186.5 138.2zM197.4 134.6L204.8 139L204.8 147.7L197.4 152.1L190 147.7L190 139zM200.9 135.3L208.3 139.7L208.3 148.4L200.9 152.8L193.5 148.4L193.5 139.7zM207.3 136.5L214.7 140.8L214.7 149.6L207.3 154L199.9 149.6L199.9 140.8zM213.7 137.7L221.1 142.1L221.1 150.8L213.7 155.2L206.3 150.8L206.3 142.1zM220.2 139.2L227.6 143.6L227.6 152.4L220.2 156.7L212.8 152.4L212.8 143.6zM226.6 141.4L234 145.8L234 154.5L226.6 158.9L219.2 154.5L219.2 145.8zM233 144.2L240.4 148.5L240.4 157.3L233 161.7L225.6 157.3L225.6 148.5zM239.5 147.1L246.9 151.5L246.9 160.2L239.5 164.6L232.1 160.2L232.1 151.5zM245.9 150L253.3 154.4L253.3 163.1L245.9 167.5L238.5 163.1L238.5 154.4zM252.3 153.3L259.7 157.7L259.7 166.4L252.3 170.8L244.9 166.4L244.9 157.7zM258.8 157.6L266.2 162L266.2 170.7L258.8 175.1L251.4 170.7L251.4 162zM265.2 165L272.6 169.4L272.6 178.1L265.2 182.5L257.8 178.1L257.8 169.4zM271.6 174.5L279 178.9L279 187.7L271.6 192L264.2 187.7L264.2 178.9zM278.1 184.2L285.5 188.5L285.5 197.3L278.1 201.7L270.7 197.3L270.7 188.5zM284.5 194.3L291.9 198.7L291.9 207.5L284.5 211.8L277.1 207.5L277.1 198.7zM290.9 203L298.3 207.4L298.3 216.1L290.9 220.5L283.5 216.1L283.5 207.4zM297.4 210.3L304.8 214.6L304.8 223.4L297.4 227.8L290 223.4L290 214.6zM303.8 217.4L311.2 221.7L311.2 230.5L303.8 234.9L296.4 230.5L296.4 221.7zM310.2 225.2L317.6 229.6L317.6 238.4L310.2 242.7L302.8 238.4L302.8 229.6zM316.7 233.6L324.1 238L324.1 246.8L316.7 251.1L309.3 246.8L309.3 238zM323.1 242.7L330.5 247.1L330.5 255.9L323.1 260.2L315.7 255.9L315.7 247.1zM333.9 260.6L341.3 265L341.3 273.8L333.9 278.1L326.5 273.8L326.5 265zM346.8 270.5L354.2 274.9L354.2 283.6L346.8 288L339.4 283.6L339.4 274.9zM359.6 279.7L367 284L367 292.8L359.6 297.2L352.2 292.8L352.2 284zM372.5 286.9L379.9 291.3L379.9 300.1L372.5 304.4L365.1 300.1L365.1 291.3zM385.3 293L392.7 297.4L392.7 306.2L385.3 310.5L377.9 306.2L377.9 297.4zM398.2 298.4L405.6 302.8L405.6 311.5L398.2 315.9L390.8 311.5L390.8 302.8zM411.1 303.1L418.5 307.5L418.5 316.2L411.1 320.6L403.7 316.2L403.7 307.5zM423.9 307.1L431.3 311.5L431.3 320.2L423.9 324.6L416.5 320.2L416.5 311.5zM436.8 310.6L444.2 314.9L444.2 323.7L436.8 328.1L429.4 323.7L429.4 314.9zM449.7 313.7L457.1 318.1L457.1 326.8L449.7 331.2L442.3 326.8L442.3 318.1zM462.5 316.5L469.9 320.9L469.9 329.7L462.5 334L455.1 329.7L455.1 320.9zM475.4 319.1L482.8 323.5L482.8 332.2L475.4 336.6L468 332.2L468 323.5zM488.3 321.4L495.7 325.8L495.7 334.5L488.3 338.9L480.9 334.5L480.9 325.8zM501.1 323.5L508.5 327.9L508.5 336.6L501.1 341L493.7 336.6L493.7 327.9zM514 325.4L521.4 329.7L521.4 338.5L514 342.9L506.6 338.5L506.6 329.7zM526.9 327L534.3 331.4L534.3 340.2L526.9 344.5L519.5 340.2L519.5 331.4zM539.7 328.5L547.1 332.9L547.1 341.7L539.7 346L532.3 341.7L532.3 332.9zM552.6 329.9L560 334.3L560 343L552.6 347.4L545.2 343L545.2 334.3zM565.4 331.2L572.8 335.6L572.8 344.3L565.4 348.7L558 344.3L558 335.6zM578.3 332.4L585.7 336.8L585.7 345.5L578.3 349.9L570.9 345.5L570.9 336.8zM591.2 333.5L598.6 337.9L598.6 346.6L591.2 351L583.8 346.6L583.8 337.9zM604 334.5L611.4 338.9L611.4 347.6L604 352L596.6 347.6L596.6 338.9zM616.9 335.5L624.3 339.8L624.3 348.6L616.9 353L609.5 348.6L609.5 339.8zM629.8 336.3L637.2 340.7L637.2 349.5L629.8 353.8L622.4 349.5L622.4 340.7zM642.6 337.2L650 341.6L650 350.3L642.6 354.7L635.2 350.3L635.2 341.6zM655.5 338L662.9 342.4L662.9 351.1L655.5 355.5L648.1 351.1L648.1 342.4zM668.4 338.8L675.8 343.2L675.8 351.9L668.4 356.3L661 351.9L661 343.2zM681.2 339.6L688.6 344L688.6 352.7L681.2 357.1L673.8 352.7L673.8 344zM694.1 340.3L701.5 344.7L701.5 353.5L694.1 357.8L686.7 353.5L686.7 344.7zM706.9 341.1L714.3 345.4L714.3 354.2L706.9 358.6L699.5 354.2L699.5 345.4zM719.8 341.7L727.2 346.1L727.2 354.8L719.8 359.2L712.4 354.8L712.4 346.1zM732.7 342.3L740.1 346.7L740.1 355.4L732.7 359.8L725.3 355.4L725.3 346.7zM745.5 342.8L752.9 347.2L752.9 355.9L745.5 360.3L738.1 355.9L738.1 347.2zM758.4 343.2L765.8 347.6L765.8 356.4L758.4 360.7L751 356.4L751 347.6zM771.3 343.6L778.7 347.9L778.7 356.7L771.3 361.1L763.9 356.7L763.9 347.9zM784.1 343.8L791.5 348.2L791.5 356.9L784.1 361.3L776.7 356.9L776.7 348.2zM813.1 344.3L820.5 348.7L820.5 357.5L813.1 361.8L805.7 357.5L805.7 348.7zM838.8 344.7L846.2 349.1L846.2 357.9L838.8 362.2L831.4 357.9L831.4 349.1zM864.5 345.1L871.9 349.5L871.9 358.2L864.5 362.6L857.1 358.2L857.1 349.5zM890.3 345.4L897.7 349.7L897.7 358.5L890.3 362.9L882.9 358.5L882.9 349.7zM916 345.6L923.4 349.9L923.4 358.7L916 363.1L908.6 358.7L908.6 349.9zM941.7 345.7L949.1 350.1L949.1 358.8L941.7 363.2L934.3 358.8L934.3 350.1zM967.4 345.7L974.8 350.1L974.8 358.9L967.4 363.2L960 358.9L960 350.1z" fill="#7b4f4f"/>
<path d="M353 220.9L353.4 221.5M795.1 352L802.1 352.2M824.1 352.6L827.8 352.7M849.8 353.1L853.5 353.2M875.5 353.5L879.3 353.6M901.3 353.9L905 353.9M927 354.2L930.7 354.2M952.7 354.4L956.4 354.4" fill="none" stroke="#8c8c00" stroke-width="4" stroke-linecap="round"/>
<path d="M155.7 178.7L158.2 184.7L164.7 185.2L159.7 189.4L161.3 195.7L155.7 192.3L150.2 195.7L151.7 189.4L146.8 185.2L153.3 184.7zM159.2 175.7L161.7 181.7L168.1 182.2L163.2 186.4L164.7 192.8L159.2 189.3L153.7 192.8L155.2 186.4L150.3 182.2L156.7 181.7zM162.7 173.1L165.1 179.1L171.6 179.6L166.7 183.8L168.2 190.1L162.7 186.7L157.1 190.1L158.7 183.8L153.7 179.6L160.2 179.1zM166.1 170.6L168.6 176.6L175.1 177.1L170.1 181.3L171.7 187.6L166.1 184.2L160.6 187.6L162.2 181.3L157.2 177.1L163.7 176.6zM169.6 168.3L172.1 174.3L178.6 174.8L173.6 179L175.1 185.3L169.6 181.9L164.1 185.3L165.6 179L160.7 174.8L167.2 174.3zM173.1 166.1L175.6 172.1L182 172.6L177.1 176.8L178.6 183.1L173.1 179.7L167.6 183.1L169.1 176.8L164.2 172.6L170.6 172.1zM176.6 164L179 170L185.5 170.5L180.6 174.7L182.1 181.1L176.6 177.6L171 181.1L172.6 174.7L167.6 170.5L174.1 170zM180 162.2L182.5 168.2L189 168.7L184 172.9L185.6 179.2L180 175.8L174.5 179.2L176 172.9L171.1 168.7L177.6 168.2zM183.5 160.5L186 166.5L192.5 167L187.5 171.2L189 177.5L183.5 174.1L178 177.5L179.5 171.2L174.6 167L181 166.5zM187 158.9L189.5 164.9L195.9 165.4L191 169.6L192.5 175.9L187 172.5L181.5 175.9L183 169.6L178 165.4L184.5 164.9zM190.5 157.4L192.9 163.4L199.4 163.9L194.5 168.1L196 174.4L190.5 171L184.9 174.4L186.5 168.1L181.5 163.9L188 163.4zM193.9 156L196.4 162L202.9 162.5L197.9 166.7L199.5 173L193.9 169.6L188.4 173L189.9 166.7L185 162.5L191.5 162zM197.4 154.8L199.9 160.8L206.3 161.3L201.4 165.5L202.9 171.8L197.4 168.4L191.9 171.8L193.4 165.5L188.5 161.3L194.9 160.8zM200.9 153.8L203.3 159.8L209.8 160.3L204.9 164.5L206.4 170.8L200.9 167.4L195.4 170.8L196.9 164.5L191.9 160.3L198.4 159.8zM207.3 152.1L209.8 158.1L216.3 158.6L211.3 162.8L212.8 169.1L207.3 165.7L201.8 169.1L203.3 162.8L198.4 158.6L204.8 158.1zM213.7 150.8L216.2 156.8L222.7 157.3L217.7 161.5L219.3 167.8L213.7 164.4L208.2 167.8L209.7 161.5L204.8 157.3L211.3 156.8zM220.2 149.5L222.6 155.5L229.1 156L224.2 160.2L225.7 166.5L220.2 163.1L214.6 166.5L216.2 160.2L211.2 156L217.7 155.5zM226.6 148.3L229.1 154.3L235.5 154.7L230.6 159L232.1 165.3L226.6 161.9L221.1 165.3L222.6 159L217.7 154.7L224.1 154.3zM233 147.1L235.5 153.1L242 153.6L237 157.8L238.6 164.1L233 160.7L227.5 164.1L229 157.8L224.1 153.6L230.6 153.1zM239.5 146.3L241.9 152.3L248.4 152.8L243.5 157L245 163.3L239.5 159.9L233.9 163.3L235.5 157L230.5 152.8L237 152.3zM245.9 145.8L248.4 151.8L254.8 152.3L249.9 156.5L251.4 162.8L245.9 159.4L240.4 162.8L241.9 156.5L237 152.3L243.4 151.8zM252.3 145.4L254.8 151.4L261.3 151.9L256.3 156.1L257.9 162.4L252.3 159L246.8 162.4L248.3 156.1L243.4 151.9L249.9 151.4zM258.8 145.1L261.2 151.1L267.7 151.6L262.8 155.8L264.3 162.1L258.8 158.7L253.2 162.1L254.8 155.8L249.8 151.6L256.3 151.1zM265.2 145.1L267.7 151.1L274.1 151.6L269.2 155.8L270.7 162.1L265.2 158.7L259.7 162.1L261.2 155.8L256.3 151.6L262.7 151.1zM271.6 145.7L274.1 151.7L280.6 152.2L275.6 156.4L277.2 162.7L271.6 159.3L266.1 162.7L267.6 156.4L262.7 152.2L269.2 151.7zM278.1 146.9L280.5 152.9L287 153.4L282.1 157.6L283.6 163.9L278.1 160.5L272.5 163.9L274.1 157.6L269.1 153.4L275.6 152.9zM284.5 148.6L287 154.6L293.4 155.1L288.5 159.3L290 165.6L284.5 162.2L279 165.6L280.5 159.3L275.6 155.1L282 154.6zM290.9 152.9L293.4 158.9L299.9 159.4L294.9 163.6L296.5 169.9L290.9 166.5L285.4 169.9L286.9 163.6L282 159.4L288.5 158.9zM297.4 157.5L299.8 163.5L306.3 164L301.4 168.2L302.9 174.5L297.4 171.1L291.8 174.5L293.4 168.2L288.4 164L294.9 163.5zM303.8 162L306.3 168L312.7 168.5L307.8 172.7L309.3 179L303.8 175.6L298.3 179L299.8 172.7L294.9 168.5L301.3 168zM310.2 165.9L312.7 171.9L319.2 172.4L314.2 176.6L315.7 182.9L310.2 179.5L304.7 182.9L306.2 176.6L301.3 172.4L307.8 171.9zM316.7 169.9L319.1 175.9L325.6 176.4L320.6 180.6L322.2 186.9L316.7 183.5L311.1 186.9L312.7 180.6L307.7 176.4L314.2 175.9zM323.1 176.1L325.6 182.1L332 182.6L327.1 186.8L328.6 193.1L323.1 189.7L317.6 193.1L319.1 186.8L314.1 182.6L320.6 182.1zM333.9 189.3L336.4 195.3L342.8 195.8L337.9 200L339.4 206.3L333.9 202.9L328.4 206.3L329.9 200L325 195.8L331.4 195.3zM346.8 202.4L349.2 208.5L355.7 208.9L350.8 213.1L352.3 219.5L346.8 216L341.2 219.5L342.8 213.1L337.8 208.9L344.3 208.5zM359.6 221.2L362.1 227.2L368.6 227.7L363.6 231.9L365.1 238.2L359.6 234.8L354.1 238.2L355.6 231.9L350.7 227.7L357.2 227.2zM372.5 239L375 245L381.4 245.5L376.5 249.7L378 256L372.5 252.6L367 256L368.5 249.7L363.5 245.5L370 245zM385.3 254.8L387.8 260.8L394.3 261.3L389.3 265.5L390.9 271.8L385.3 268.4L379.8 271.8L381.4 265.5L376.4 261.3L382.9 260.8zM398.2 270.4L400.7 276.4L407.2 276.9L402.2 281.1L403.7 287.5L398.2 284L392.7 287.5L394.2 281.1L389.3 276.9L395.7 276.4zM411.1 281.3L413.5 287.3L420 287.7L415.1 292L416.6 298.3L411.1 294.9L405.6 298.3L407.1 292L402.1 287.7L408.6 287.3zM423.9 289.4L426.4 295.4L432.9 295.9L427.9 300.1L429.5 306.4L423.9 303L418.4 306.4L419.9 300.1L415 295.9L421.5 295.4zM436.8 295.9L439.3 301.9L445.7 302.4L440.8 306.6L442.3 312.9L436.8 309.5L431.3 312.9L432.8 306.6L427.9 302.4L434.3 301.9zM449.7 302.4L452.1 308.4L458.6 308.9L453.7 313.1L455.2 319.4L449.7 316L444.1 319.4L445.7 313.1L440.7 308.9L447.2 308.4zM462.5 307.1L465 313.1L471.5 313.6L466.5 317.8L468.1 324.1L462.5 320.7L457 324.1L458.5 317.8L453.6 313.6L460.1 313.1zM475.4 311.1L477.9 317.1L484.3 317.6L479.4 321.8L480.9 328.1L475.4 324.7L469.9 328.1L471.4 321.8L466.5 317.6L472.9 317.1zM488.3 315L490.7 321L497.2 321.5L492.3 325.7L493.8 332L488.3 328.6L482.7 332L484.3 325.7L479.3 321.5L485.8 321zM501.1 317.7L503.6 323.7L510.1 324.2L505.1 328.4L506.6 334.7L501.1 331.3L495.6 334.7L497.1 328.4L492.2 324.2L498.7 323.7zM514 321.6L516.5 327.6L522.9 328.1L518 332.3L519.5 338.6L514 335.2L508.5 338.6L510 332.3L505 328.1L511.5 327.6zM526.9 324L529.3 330L535.8 330.5L530.8 334.7L532.4 341L526.9 337.6L521.3 341L522.9 334.7L517.9 330.5L524.4 330zM539.7 325.8L542.2 331.9L548.7 332.3L543.7 336.5L545.2 342.9L539.7 339.4L534.2 342.9L535.7 336.5L530.8 332.3L537.2 331.9zM552.6 327.4L555 333.4L561.5 333.9L556.6 338.1L558.1 344.4L552.6 341L547.1 344.4L548.6 338.1L543.6 333.9L550.1 333.4zM565.4 328.8L567.9 334.8L574.4 335.3L569.4 339.5L571 345.8L565.4 342.4L559.9 345.8L561.4 339.5L556.5 335.3L563 334.8zM578.3 330.2L580.8 336.2L587.2 336.7L582.3 340.9L583.8 347.2L578.3 343.8L572.8 347.2L574.3 340.9L569.4 336.7L575.8 336.2zM591.2 331.6L593.6 337.6L600.1 338.1L595.2 342.3L596.7 348.6L591.2 345.2L585.6 348.6L587.2 342.3L582.2 338.1L588.7 337.6zM604 333L606.5 339L613 339.5L608 343.7L609.6 350L604 346.6L598.5 350L600 343.7L595.1 339.5L601.6 339zM616.9 334.3L619.4 340.3L625.8 340.8L620.9 345L622.4 351.3L616.9 347.9L611.4 351.3L612.9 345L608 340.8L614.4 340.3zM629.8 335.5L632.2 341.5L638.7 342L633.8 346.2L635.3 352.5L629.8 349.1L624.2 352.5L625.8 346.2L620.8 342L627.3 341.5zM642.6 336.5L645.1 342.5L651.6 343L646.6 347.2L648.2 353.5L642.6 350.1L637.1 353.5L638.6 347.2L633.7 343L640.2 342.5zM655.5 337.3L658 343.3L664.4 343.8L659.5 348L661 354.3L655.5 350.9L650 354.3L651.5 348L646.6 343.8L653 343.3zM668.4 338.1L670.8 344.1L677.3 344.6L672.4 348.8L673.9 355.1L668.4 351.7L662.8 355.1L664.4 348.8L659.4 344.6L665.9 344.1zM681.2 338.8L683.7 344.8L690.2 345.3L685.2 349.5L686.7 355.8L681.2 352.4L675.7 355.8L677.2 349.5L672.3 345.3L678.8 344.8zM694.1 339.4L696.6 345.4L703 345.9L698.1 350.1L699.6 356.4L694.1 353L688.6 356.4L690.1 350.1L685.1 345.9L691.6 345.4zM706.9 340L709.4 346L715.9 346.4L710.9 350.6L712.5 357L706.9 353.6L701.4 357L703 350.6L698 346.4L704.5 346zM719.8 340.5L722.3 346.5L728.8 347L723.8 351.2L725.3 357.5L719.8 354.1L714.3 357.5L715.8 351.2L710.9 347L717.3 346.5zM732.7 340.9L735.1 346.9L741.6 347.4L736.7 351.6L738.2 357.9L732.7 354.5L727.2 357.9L728.7 351.6L723.7 347.4L730.2 346.9zM745.5 341.4L748 347.4L754.5 347.9L749.5 352.1L751.1 358.4L745.5 355L740 358.4L741.5 352.1L736.6 347.9L743.1 347.4zM758.4 341.7L760.9 347.7L767.3 348.2L762.4 352.4L763.9 358.7L758.4 355.3L752.9 358.7L754.4 352.4L749.5 348.2L755.9 347.7zM771.3 342.1L773.7 348.1L780.2 348.6L775.3 352.8L776.8 359.1L771.3 355.7L765.7 359.1L767.3 352.8L762.3 348.6L768.8 348.1zM784.1 342.4L786.6 348.4L793.1 348.9L788.1 353.1L789.7 359.4L784.1 356L778.6 359.4L780.1 353.1L775.2 348.9L781.7 348.4zM813.1 343L815.5 349L822 349.5L817.1 353.7L818.6 360L813.1 356.6L807.6 360L809.1 353.7L804.1 349.5L810.6 349zM838.8 343.5L841.3 349.5L847.7 350L842.8 354.2L844.3 360.5L838.8 357.1L833.3 360.5L834.8 354.2L829.9 350L836.3 349.5zM864.5 344L867 350L873.5 350.5L868.5 354.7L870.1 361L864.5 357.6L859 361L860.5 354.7L855.6 350.5L862.1 350zM890.3 344.4L892.7 350.4L899.2 350.8L894.3 355L895.8 361.4L890.3 358L884.7 361.4L886.3 355L881.3 350.8L887.8 350.4zM916 344.7L918.5 350.7L924.9 351.2L920 355.4L921.5 361.7L916 358.3L910.5 361.7L912 355.4L907 351.2L913.5 350.7zM941.7 344.9L944.2 350.9L950.7 351.4L945.7 355.6L947.2 361.9L941.7 358.5L936.2 361.9L937.7 355.6L932.8 351.4L939.2 350.9zM967.4 345.1L969.9 351.1L976.4 351.6L971.4 355.8L973 362.1L967.4 358.7L961.9 362.1L963.4 355.8L958.5 351.6L965 351.1z" fill="#8c8c00"/>
<path d="M429.6 187.9L431.2 190.5M441.2 210.1L445.3 219.6M454 239.8L458.2 249.3M468 268.9L469.9 272.2M795.1 361.9L802.1 362M824.1 362.5L827.8 362.5M849.8 362.9L853.5 362.9M875.5 363.2L879.3 363.3M901.3 363.5L905 363.5M927 363.7L930.7 363.7M952.7 363.8L956.4 363.8" fill="none" stroke="#ff6600" stroke-width="4" stroke-linecap="round"/>
<path d="M155.7 246.8L164.2 253L161 262.9L150.5 262.9L147.3 253zM159.2 243.5L167.7 249.7L164.4 259.6L154 259.6L150.7 249.7zM162.7 240.3L171.1 246.4L167.9 256.4L157.4 256.4L154.2 246.4zM166.1 237.1L174.6 243.3L171.4 253.2L160.9 253.2L157.7 243.3zM169.6 234.1L178.1 240.2L174.9 250.2L164.4 250.2L161.2 240.2zM173.1 231.1L181.6 237.2L178.3 247.2L167.9 247.2L164.6 237.2zM176.6 228.2L185 234.3L181.8 244.3L171.3 244.3L168.1 234.3zM180 225.3L188.5 231.5L185.3 241.4L174.8 241.4L171.6 231.5zM183.5 222.6L192 228.7L188.7 238.7L178.3 238.7L175 228.7zM187 219.9L195.4 226L192.2 236L181.8 236L178.5 226zM190.5 217.2L198.9 223.4L195.7 233.3L185.2 233.3L182 223.4zM193.9 214.6L202.4 220.8L199.2 230.7L188.7 230.7L185.5 220.8zM197.4 212.1L205.9 218.2L202.6 228.2L192.2 228.2L188.9 218.2zM200.9 209.5L209.3 215.7L206.1 225.6L195.6 225.6L192.4 215.7zM207.3 204.9L215.8 211L212.5 221L202.1 221L198.8 211zM213.7 200.4L222.2 206.5L219 216.5L208.5 216.5L205.3 206.5zM220.2 195.9L228.6 202.1L225.4 212L214.9 212L211.7 202.1zM226.6 191.3L235.1 197.5L231.8 207.4L221.4 207.4L218.1 197.5zM233 186.5L241.5 192.7L238.3 202.6L227.8 202.6L224.6 192.7zM239.5 181.9L247.9 188L244.7 198L234.2 198L231 188zM245.9 177.5L254.4 183.6L251.1 193.6L240.7 193.6L237.4 183.6zM252.3 173.6L260.8 179.7L257.6 189.7L247.1 189.7L243.9 179.7zM258.8 170L267.2 176.1L264 186.1L253.5 186.1L250.3 176.1zM265.2 166.5L273.7 172.7L270.4 182.6L260 182.6L256.7 172.7zM271.6 163.4L280.1 169.5L276.9 179.5L266.4 179.5L263.2 169.5zM278.1 160.5L286.5 166.6L283.3 176.6L272.8 176.6L269.6 166.6zM284.5 157.9L293 164.1L289.7 174L279.3 174L276 164.1zM290.9 155.6L299.4 161.7L296.2 171.7L285.7 171.7L282.5 161.7zM297.4 153.4L305.8 159.5L302.6 169.5L292.1 169.5L288.9 159.5zM303.8 151.3L312.3 157.5L309 167.4L298.6 167.4L295.3 157.5zM310.2 149.5L318.7 155.6L315.5 165.6L305 165.6L301.8 155.6zM316.7 147.8L325.1 154L321.9 163.9L311.4 163.9L308.2 154zM323.1 146.4L331.6 152.5L328.3 162.5L317.9 162.5L314.6 152.5zM333.9 144.2L342.4 150.4L339.1 160.3L328.7 160.3L325.4 150.4zM346.8 142.3L355.2 148.4L352 158.4L341.5 158.4L338.3 148.4zM359.6 141.1L368.1 147.2L364.9 157.2L354.4 157.2L351.2 147.2zM372.5 140.3L380.9 146.5L377.7 156.4L367.3 156.4L364 146.5zM385.3 141.8L393.8 148L390.6 157.9L380.1 157.9L376.9 148zM398.2 149.1L406.7 155.3L403.4 165.2L393 165.2L389.7 155.3zM411.1 157.8L419.5 163.9L416.3 173.9L405.8 173.9L402.6 163.9zM423.9 170.4L432.4 176.5L429.2 186.5L418.7 186.5L415.5 176.5zM436.8 191.9L445.3 198.1L442 208L431.6 208L428.3 198.1zM449.7 221.6L458.1 227.8L454.9 237.7L444.4 237.7L441.2 227.8zM462.5 251.3L471 257.4L467.8 267.4L457.3 267.4L454.1 257.4zM475.4 273.7L483.9 279.8L480.6 289.8L470.2 289.8L466.9 279.8zM488.3 287.9L496.7 294L493.5 304L483 304L479.8 294zM501.1 299.7L509.6 305.8L506.4 315.8L495.9 315.8L492.7 305.8zM514 308.6L522.5 314.8L519.2 324.7L508.8 324.7L505.5 314.8zM526.9 315.7L535.3 321.8L532.1 331.8L521.6 331.8L518.4 321.8zM539.7 321.6L548.2 327.8L544.9 337.7L534.5 337.7L531.3 327.8zM552.6 326.1L561 332.3L557.8 342.2L547.3 342.2L544.1 332.3zM565.4 329.5L573.9 335.6L570.7 345.6L560.2 345.6L557 335.6zM578.3 332.4L586.8 338.6L583.5 348.5L573.1 348.5L569.8 338.6zM591.2 334.9L599.6 341.1L596.4 351L585.9 351L582.7 341.1zM604 337.1L612.5 343.3L609.3 353.2L598.8 353.2L595.6 343.3zM616.9 339.1L625.4 345.2L622.1 355.2L611.7 355.2L608.4 345.2zM629.8 340.8L638.2 347L635 356.9L624.5 356.9L621.3 347zM642.6 342.4L651.1 348.5L647.9 358.5L637.4 358.5L634.2 348.5zM655.5 343.8L664 350L660.7 359.9L650.3 359.9L647 350zM668.4 345.3L676.8 351.4L673.6 361.4L663.1 361.4L659.9 351.4zM681.2 346.6L689.7 352.8L686.5 362.7L676 362.7L672.8 352.8zM694.1 347.9L702.5 354L699.3 364L688.9 364L685.6 354zM706.9 349.1L715.4 355.2L712.2 365.2L701.7 365.2L698.5 355.2zM719.8 350.1L728.3 356.3L725 366.2L714.6 366.2L711.3 356.3zM732.7 351.1L741.1 357.2L737.9 367.2L727.4 367.2L724.2 357.2zM745.5 351.9L754 358.1L750.8 368L740.3 368L737.1 358.1zM758.4 352.6L766.9 358.8L763.6 368.7L753.2 368.7L749.9 358.8zM771.3 353.2L779.7 359.3L776.5 369.3L766 369.3L762.8 359.3zM784.1 353.6L792.6 359.7L789.4 369.7L778.9 369.7L775.7 359.7zM813.1 354.2L821.5 360.4L818.3 370.3L807.8 370.3L804.6 360.4zM838.8 354.7L847.3 360.8L844 370.8L833.6 370.8L830.3 360.8zM864.5 355.1L873 361.2L869.8 371.2L859.3 371.2L856.1 361.2zM890.3 355.4L898.7 361.5L895.5 371.5L885 371.5L881.8 361.5zM916 355.6L924.5 361.7L921.2 371.7L910.8 371.7L907.5 361.7zM941.7 355.7L950.2 361.9L946.9 371.8L936.5 371.8L933.3 361.9zM967.4 355.8L975.9 361.9L972.7 371.9L962.2 371.9L959 361.9z" fill="#ff6600"/>
<path d="M635.4 139.5L640.9 154.4M647 174.4L655 208.1M660.1 228.4L667.6 256.5M674.5 276.3L678.9 286.3M689.2 304.5L689.9 305.4M796.4 353.8L802.8 355M823.5 358L829 358.6M849.9 361.1L854.1 361.7M875 363.7L879.8 364M900.7 365.7L905.5 366.2M926.5 367.9L931.2 368.1M952.2 369.2L955.7 369.4" fill="none" stroke="#6699cc" stroke-width="4" stroke-linecap="round"/>
<circle cx="155.9" cy="368.7" r="7.5" fill="url(#sph)"/>
<circle cx="159.4" cy="365.9" r="7.5" fill="url(#sph)"/>
<circle cx="162.9" cy="363.1" r="7.5" fill="url(#sph)"/>
<circle cx="166.3" cy="360.2" r="7.5" fill="url(#sph)"/>
<circle cx="169.8" cy="357.3" r="7.5" fill="url(#sph)"/>
<circle cx="173.3" cy="354.3" r="7.5" fill="url(#sph)"/>
<circle cx="176.8" cy="351.3" r="7.5" fill="url(#sph)"/>
<circle cx="180.2" cy="348.3" r="7.5" fill="url(#sph)"/>
<circle cx="183.7" cy="345.2" r="7.5" fill="url(#sph)"/>
<circle cx="187.2" cy="342" r="7.5" fill="url(#sph)"/>
<circle cx="190.7" cy="338.9" r="7.5" fill="url(#sph)"/>
<circle cx="194.1" cy="335.8" r="7.5" fill="url(#sph)"/>
<circle cx="197.6" cy="332.6" r="7.5" fill="url(#sph)"/>
<circle cx="201.1" cy="329.4" r="7.5" fill="url(#sph)"/>
<circle cx="203.1" cy="327.5" r="7.5" fill="url(#sph)"/>
<circle cx="209.4" cy="319.1" r="7.5" fill="url(#sph)"/>
<circle cx="215.7" cy="311.8" r="7.5" fill="url(#sph)"/>
<circle cx="222.3" cy="304.1" r="7.5" fill="url(#sph)"/>
<circle cx="228.7" cy="295.7" r="7.5" fill="url(#sph)"/>
<circle cx="235.3" cy="288.3" r="7.5" fill="url(#sph)"/>
<circle cx="242.3" cy="279.9" r="7.5" fill="url(#sph)"/>
<circle cx="248.6" cy="272.2" r="7.5" fill="url(#sph)"/>
<circle cx="254.9" cy="264.9" r="7.5" fill="url(#sph)"/>
<circle cx="261.2" cy="258.5" r="7.5" fill="url(#sph)"/>
<circle cx="267.9" cy="251.5" r="7.5" fill="url(#sph)"/>
<circle cx="274.5" cy="244.5" r="7.5" fill="url(#sph)"/>
<circle cx="281.1" cy="237.4" r="7.5" fill="url(#sph)"/>
<circle cx="288.2" cy="230.1" r="7.5" fill="url(#sph)"/>
<circle cx="294" cy="223.6" r="7.5" fill="url(#sph)"/>
<circle cx="300.8" cy="217.5" r="7.5" fill="url(#sph)"/>
<circle cx="306.9" cy="211.4" r="7.5" fill="url(#sph)"/>
<circle cx="313.3" cy="205.3" r="7.5" fill="url(#sph)"/>
<circle cx="319.4" cy="200.4" r="7.5" fill="url(#sph)"/>
<circle cx="326" cy="195.1" r="7.5" fill="url(#sph)"/>
<circle cx="334.4" cy="189.6" r="7.5" fill="url(#sph)"/>
<circle cx="347" cy="180" r="7.5" fill="url(#sph)"/>
<circle cx="359" cy="169.9" r="7.5" fill="url(#sph)"/>
<circle cx="371.8" cy="160.8" r="7.5" fill="url(#sph)"/>
<circle cx="384.8" cy="153" r="7.5" fill="url(#sph)"/>
<circle cx="398.2" cy="145.6" r="7.5" fill="url(#sph)"/>
<circle cx="410.4" cy="140.8" r="7.5" fill="url(#sph)"/>
<circle cx="423.8" cy="133.8" r="7.5" fill="url(#sph)"/>
<circle cx="436.6" cy="128" r="7.5" fill="url(#sph)"/>
<circle cx="449.8" cy="124.2" r="7.5" fill="url(#sph)"/>
<circle cx="462.5" cy="120" r="7.5" fill="url(#sph)"/>
<circle cx="476" cy="115.8" r="7.5" fill="url(#sph)"/>
<circle cx="488.8" cy="112" r="7.5" fill="url(#sph)"/>
<circle cx="501.6" cy="108.8" r="7.5" fill="url(#sph)"/>
<circle cx="515" cy="105" r="7.5" fill="url(#sph)"/>
<circle cx="527.8" cy="103" r="7.5" fill="url(#sph)"/>
<circle cx="540.6" cy="101.4" r="7.5" fill="url(#sph)"/>
<circle cx="553.8" cy="100.8" r="7.5" fill="url(#sph)"/>
<circle cx="566.6" cy="99.8" r="7.5" fill="url(#sph)"/>
<circle cx="580" cy="100.2" r="7.5" fill="url(#sph)"/>
<circle cx="592.8" cy="100.8" r="7.5" fill="url(#sph)"/>
<circle cx="605.6" cy="104.6" r="7.5" fill="url(#sph)"/>
<circle cx="618.4" cy="113.6" r="7.5" fill="url(#sph)"/>
<circle cx="631.7" cy="129.7" r="7.5" fill="url(#sph)"/>
<circle cx="644.6" cy="164.2" r="7.5" fill="url(#sph)"/>
<circle cx="657.4" cy="218.3" r="7.5" fill="url(#sph)"/>
<circle cx="670.3" cy="266.7" r="7.5" fill="url(#sph)"/>
<circle cx="683.1" cy="295.9" r="7.5" fill="url(#sph)"/>
<circle cx="696" cy="314" r="7.5" fill="url(#sph)"/>
<circle cx="708.9" cy="324.4" r="7.5" fill="url(#sph)"/>
<circle cx="721.4" cy="331.3" r="7.5" fill="url(#sph)"/>
<circle cx="734.6" cy="337.4" r="7.5" fill="url(#sph)"/>
<circle cx="748.1" cy="342" r="7.5" fill="url(#sph)"/>
<circle cx="760.3" cy="345.4" r="7.5" fill="url(#sph)"/>
<circle cx="773.2" cy="349" r="7.5" fill="url(#sph)"/>
<circle cx="786.1" cy="351.8" r="7.5" fill="url(#sph)"/>
<circle cx="813.1" cy="356.9" r="7.5" fill="url(#sph)"/>
<circle cx="839.4" cy="359.8" r="7.5" fill="url(#sph)"/>
<circle cx="864.5" cy="363" r="7.5" fill="url(#sph)"/>
<circle cx="890.3" cy="364.6" r="7.5" fill="url(#sph)"/>
<circle cx="916" cy="367.3" r="7.5" fill="url(#sph)"/>
<circle cx="941.7" cy="368.7" r="7.5" fill="url(#sph)"/>
<circle cx="966.2" cy="369.9" r="7.5" fill="url(#sph)"/>
</g>
<rect x="179.3" y="93.2" width="4.2" height="27" fill="#00cccc"/>
<path d="M171.7 119.7L191.2 119.7L181.4 140.7z" fill="#00cccc"/>
<rect x="260.2" y="103.7" width="4" height="39" fill="#7b4f4f"/>
<path d="M252.6 142.2L271.8 142.2L262.2 162.6z" fill="#7b4f4f"/>
<rect x="322.8" y="129" width="4" height="27.3" fill="#8c8c00"/>
<path d="M315.3 155.8L334.3 155.8L324.8 176.4z" fill="#8c8c00"/>
<rect x="411.9" y="109" width="4.2" height="30.5" fill="#ff6600"/>
<path d="M404.4 139L423.6 139L414 158z" fill="#ff6600"/>
<rect x="630.9" y="68.7" width="4" height="23.9" fill="#6699cc"/>
<path d="M623.2 92.1L642.5 92.1L632.9 113z" fill="#6699cc"/>
<g clip-path="url(#cb)">
<path d="M254.1 812.6L256.1 812.9" fill="none" stroke="#3aab6b" stroke-width="4.25" stroke-linecap="round"/>
<path d="M240.3 799.2L253.2 820.7L227.4 820.7zM269.9 804.8L282.8 826.3L257 826.3zM295.6 809.9L308.5 831.4L282.7 831.4zM318.4 814.8L331.3 836.3L305.5 836.3zM338.9 819.2L351.8 840.7L326 840.7zM357.5 822.9L370.4 844.4L344.6 844.4zM374.5 826.6L387.4 848.1L361.6 848.1zM390.1 830.7L403 852.2L377.2 852.2zM404.7 834.6L417.6 856.1L391.8 856.1zM418.2 837.9L431.1 859.4L405.3 859.4zM430.9 840.9L443.8 862.4L418 862.4zM442.8 843.8L455.7 865.3L429.9 865.3zM454.1 846.4L467 867.9L441.2 867.9zM464.7 848.6L477.6 870.1L451.8 870.1zM483.1 852L496 873.5L470.2 873.5zM499.9 855.2L512.8 876.7L487 876.7zM515.4 858.4L528.3 879.9L502.5 879.9zM529.9 861.6L542.8 883.1L517 883.1zM543.3 864.7L556.2 886.2L530.4 886.2zM555.9 867.5L568.8 889L543 889zM567.7 870.2L580.6 891.7L554.8 891.7zM578.9 872.9L591.8 894.4L566 894.4zM589.5 875.4L602.4 896.9L576.6 896.9zM599.6 877.7L612.5 899.2L586.7 899.2zM609.1 879.9L622 901.4L596.2 901.4zM618.3 882L631.2 903.5L605.4 903.5zM627 883.9L639.9 905.4L614.1 905.4zM635.4 885.8L648.3 907.3L622.5 907.3zM643.5 887.6L656.4 909.1L630.6 909.1zM651.2 889.3L664.1 910.8L638.3 910.8zM658.6 890.9L671.5 912.4L645.7 912.4zM665.8 892.3L678.7 913.8L652.9 913.8zM672.7 893.6L685.6 915.1L659.8 915.1zM683.2 895.5L696.1 917L670.3 917zM695.7 897.7L708.6 919.2L682.8 919.2zM707.5 899.7L720.4 921.2L694.6 921.2zM718.7 901.6L731.6 923.1L705.8 923.1zM729.2 903.4L742.1 924.9L716.3 924.9zM739.2 905.2L752.1 926.7L726.3 926.7zM748.8 906.8L761.7 928.3L735.9 928.3zM757.9 908.4L770.8 929.9L745 929.9zM766.6 909.9L779.5 931.4L753.7 931.4zM775 911.2L787.9 932.7L762.1 932.7zM783 912.5L795.9 934L770.1 934zM790.7 913.7L803.6 935.2L777.8 935.2zM798.1 914.9L811 936.4L785.2 936.4zM805.3 916L818.2 937.5L792.4 937.5zM812.2 917.1L825.1 938.6L799.3 938.6zM818.9 918.1L831.8 939.6L806 939.6zM825.3 919.1L838.2 940.6L812.4 940.6zM831.6 920L844.5 941.5L818.7 941.5zM837.7 920.9L850.6 942.4L824.8 942.4zM843.5 921.8L856.4 943.3L830.6 943.3zM849.3 922.6L862.2 944.1L836.4 944.1zM854.8 923.4L867.7 944.9L841.9 944.9zM860.3 924.2L873.2 945.7L847.4 945.7zM865.5 924.9L878.4 946.4L852.6 946.4zM870.7 925.6L883.6 947.1L857.8 947.1zM875.7 926.3L888.6 947.8L862.8 947.8zM880.6 926.9L893.5 948.4L867.7 948.4zM885.3 927.5L898.2 949L872.4 949zM890 928L902.9 949.5L877.1 949.5zM894.6 928.5L907.5 950L881.7 950zM899 928.9L911.9 950.4L886.1 950.4zM903.4 929.3L916.3 950.8L890.5 950.8zM907.6 929.6L920.5 951.1L894.7 951.1zM911.8 929.9L924.7 951.4L898.9 951.4zM915.9 930.2L928.8 951.7L903 951.7zM919.9 930.5L932.8 952L907 952zM928.6 931L941.5 952.5L915.7 952.5zM936.1 931.4L949 952.9L923.2 952.9zM943.3 931.7L956.2 953.2L930.4 953.2zM950.2 931.9L963.1 953.4L937.3 953.4zM956.9 932.2L969.8 953.7L944 953.7zM963.4 932.3L976.3 953.8L950.5 953.8zM969.7 932.5L982.6 954L956.8 954z" fill="#3aab6b"/>
<path d="M239.7 792.4L252 771.9L227.5 771.9zM256.2 797.1L268.4 776.6L243.9 776.6zM271.4 800.9L283.6 780.4L259.1 780.4zM285.5 803.8L297.8 783.3L273.3 783.3zM298.7 806L311 785.5L286.5 785.5zM321.2 809.9L333.4 789.4L308.9 789.4zM341.4 814.5L353.6 794L329.1 794zM359.7 819.2L372 798.7L347.5 798.7zM376.6 824.1L388.8 803.6L364.3 803.6zM392.1 828.8L404.3 808.3L379.8 808.3zM406.5 832.8L418.7 812.3L394.2 812.3zM419.9 836.7L432.1 816.2L407.6 816.2zM432.5 840.5L444.7 820L420.2 820zM444.3 844.1L456.6 823.6L432.1 823.6zM455.5 847.6L467.8 827.1L443.3 827.1zM466.1 850.7L478.3 830.2L453.8 830.2zM484.3 856.2L496.6 835.7L472.1 835.7zM501.1 861.2L513.3 840.7L488.8 840.7zM516.5 865.7L528.7 845.2L504.2 845.2zM530.8 869.7L543.1 849.2L518.6 849.2zM544.2 873.2L556.4 852.7L531.9 852.7zM556.7 876.4L569 855.9L544.5 855.9zM568.5 879.3L580.8 858.8L556.3 858.8zM579.7 882L591.9 861.5L567.4 861.5zM590.2 884.6L602.5 864.1L578 864.1zM600.3 887L612.5 866.5L588 866.5zM609.8 889.3L622 868.8L597.5 868.8zM618.9 891.5L631.2 871L606.7 871zM627.6 893.5L639.9 873L615.4 873zM636 895.5L648.2 875L623.7 875zM644 897.4L656.3 876.9L631.8 876.9zM651.7 899.3L664 878.8L639.5 878.8zM659.1 901L671.4 880.5L646.9 880.5zM666.3 902.7L678.5 882.2L654 882.2zM673.2 904.4L685.5 883.9L661 883.9zM683.2 906.9L695.5 886.4L671 886.4zM695.7 910.2L708 889.7L683.5 889.7zM707.5 913.3L719.8 892.8L695.3 892.8zM718.7 916.1L730.9 895.6L706.4 895.6zM729.2 918.6L741.5 898.1L717 898.1zM739.2 920.9L751.5 900.4L727 900.4zM748.8 923L761 902.5L736.5 902.5zM757.9 925L770.1 904.5L745.6 904.5zM766.6 926.9L778.9 906.4L754.4 906.4zM775 928.8L787.2 908.3L762.7 908.3zM783 930.5L795.2 910L770.7 910zM790.7 932.2L802.9 911.7L778.4 911.7zM798.1 933.8L810.4 913.3L785.9 913.3zM805.3 935.4L817.5 914.9L793 914.9zM812.2 936.9L824.4 916.4L799.9 916.4zM818.9 938.3L831.1 917.8L806.6 917.8zM825.3 939.7L837.6 919.2L813.1 919.2zM831.6 941.1L843.8 920.6L819.3 920.6zM837.7 942.4L849.9 921.9L825.4 921.9zM843.5 943.7L855.8 923.2L831.3 923.2zM849.3 944.9L861.5 924.4L837 924.4zM854.8 946.1L867.1 925.6L842.6 925.6zM860.3 947.4L872.5 926.9L848 926.9zM865.5 948.6L877.8 928.1L853.3 928.1zM870.7 949.7L882.9 929.2L858.4 929.2zM875.7 950.9L887.9 930.4L863.4 930.4zM880.6 951.9L892.8 931.4L868.3 931.4zM885.3 952.9L897.6 932.4L873.1 932.4zM890 953.9L902.2 933.4L877.7 933.4zM894.6 954.7L906.8 934.2L882.3 934.2zM899 955.5L911.3 935L886.8 935zM903.4 956.3L915.6 935.8L891.1 935.8zM907.6 957L919.9 936.5L895.4 936.5zM911.8 957.7L924.1 937.2L899.6 937.2zM915.9 958.4L928.1 937.9L903.6 937.9zM919.9 959L932.1 938.5L907.6 938.5zM928.6 960.2L940.9 939.7L916.4 939.7zM936.1 961L948.3 940.5L923.8 940.5zM943.3 961.6L955.5 941.1L931 941.1zM950.2 962.2L962.5 941.7L938 941.7zM956.9 962.6L969.2 942.1L944.7 942.1zM963.4 963L975.7 942.5L951.2 942.5zM969.7 963.2L982 942.7L957.5 942.7z" fill="#f04141"/>
<path d="M239.7 723.7L251.5 736.7L239.7 749.7L228 736.7zM256.2 731.1L267.9 744.1L256.2 757.1L244.4 744.1zM271.4 736.2L283.1 749.2L271.4 762.2L259.6 749.2zM285.5 739.3L297.3 752.3L285.5 765.3L273.8 752.3zM298.7 742.7L310.5 755.7L298.7 768.7L287 755.7zM321.2 752.5L332.9 765.5L321.2 778.5L309.4 765.5zM341.4 760L353.1 773L341.4 786L329.6 773zM359.7 766.4L371.5 779.4L359.7 792.4L348 779.4zM376.6 773.3L388.3 786.3L376.6 799.3L364.8 786.3zM392.1 779.7L403.8 792.7L392.1 805.7L380.3 792.7zM406.5 786.6L418.2 799.6L406.5 812.6L394.7 799.6zM419.9 792.4L431.6 805.4L419.9 818.4L408.1 805.4zM432.5 799.4L444.2 812.4L432.5 825.4L420.7 812.4zM444.3 804.5L456.1 817.5L444.3 830.5L432.6 817.5zM455.5 808.9L467.3 821.9L455.5 834.9L443.8 821.9zM466.1 813.2L477.8 826.2L466.1 839.2L454.3 826.2zM484.3 820.7L496.1 833.7L484.3 846.7L472.6 833.7zM501.1 827L512.8 840L501.1 853L489.3 840zM516.5 832.6L528.2 845.6L516.5 858.6L504.7 845.6zM530.8 837.5L542.6 850.5L530.8 863.5L519.1 850.5zM544.2 842L555.9 855L544.2 868L532.4 855zM556.7 846L568.5 859L556.7 872L545 859zM568.5 849.6L580.3 862.6L568.5 875.6L556.8 862.6zM579.7 852.8L591.4 865.8L579.7 878.8L567.9 865.8zM590.2 855.8L602 868.8L590.2 881.8L578.5 868.8zM600.3 858.6L612 871.6L600.3 884.6L588.5 871.6zM609.8 861.4L621.5 874.4L609.8 887.4L598 874.4zM618.9 864.1L630.7 877.1L618.9 890.1L607.2 877.1zM627.6 866.7L639.4 879.7L627.6 892.7L615.9 879.7zM636 869.2L647.7 882.2L636 895.2L624.2 882.2zM644 871.6L655.8 884.6L644 897.6L632.3 884.6zM651.7 874.1L663.5 887.1L651.7 900.1L640 887.1zM659.1 876.7L670.9 889.7L659.1 902.7L647.4 889.7zM666.3 879.3L678 892.3L666.3 905.3L654.5 892.3zM673.2 882.3L685 895.3L673.2 908.3L661.5 895.3zM683.2 886.9L695 899.9L683.2 912.9L671.5 899.9zM695.7 890.3L707.5 903.3L695.7 916.3L684 903.3zM707.5 892.9L719.3 905.9L707.5 918.9L695.8 905.9zM718.7 895L730.4 908L718.7 921L706.9 908zM729.2 896.9L741 909.9L729.2 922.9L717.5 909.9zM739.2 898.8L751 911.8L739.2 924.8L727.5 911.8zM748.8 900.9L760.5 913.9L748.8 926.9L737 913.9zM757.9 903.1L769.6 916.1L757.9 929.1L746.1 916.1zM766.6 905.2L778.4 918.2L766.6 931.2L754.9 918.2zM775 907.1L786.7 920.1L775 933.1L763.2 920.1zM783 908.9L794.7 921.9L783 934.9L771.2 921.9zM790.7 910.4L802.4 923.4L790.7 936.4L778.9 923.4zM798.1 911.9L809.9 924.9L798.1 937.9L786.4 924.9zM805.3 913.3L817 926.3L805.3 939.3L793.5 926.3zM812.2 914.6L823.9 927.6L812.2 940.6L800.4 927.6zM818.9 915.9L830.6 928.9L818.9 941.9L807.1 928.9zM825.3 917.1L837.1 930.1L825.3 943.1L813.6 930.1zM831.6 918.2L843.3 931.2L831.6 944.2L819.8 931.2zM837.7 919.4L849.4 932.4L837.7 945.4L825.9 932.4zM843.5 920.5L855.3 933.5L843.5 946.5L831.8 933.5zM849.3 921.7L861 934.7L849.3 947.7L837.5 934.7zM854.8 922.9L866.6 935.9L854.8 948.9L843.1 935.9zM860.3 924.1L872 937.1L860.3 950.1L848.5 937.1zM865.5 925.2L877.3 938.2L865.5 951.2L853.8 938.2zM870.7 926.3L882.4 939.3L870.7 952.3L858.9 939.3zM875.7 927.3L887.4 940.3L875.7 953.3L863.9 940.3zM880.6 928.2L892.3 941.2L880.6 954.2L868.8 941.2zM885.3 929.1L897.1 942.1L885.3 955.1L873.6 942.1zM890 929.8L901.7 942.8L890 955.8L878.2 942.8zM894.6 930.3L906.3 943.3L894.6 956.3L882.8 943.3zM899 930.8L910.8 943.8L899 956.8L887.3 943.8zM903.4 931.1L915.1 944.1L903.4 957.1L891.6 944.1zM907.6 931.4L919.4 944.4L907.6 957.4L895.9 944.4zM911.8 931.7L923.6 944.7L911.8 957.7L900.1 944.7zM915.9 932L927.6 945L915.9 958L904.1 945zM919.9 932.2L931.6 945.2L919.9 958.2L908.1 945.2zM928.6 932.6L940.4 945.6L928.6 958.6L916.9 945.6zM936.1 932.9L947.8 945.9L936.1 958.9L924.3 945.9zM943.3 933.2L955 946.2L943.3 959.2L931.5 946.2zM950.2 933.5L962 946.5L950.2 959.5L938.5 946.5zM956.9 933.7L968.7 946.7L956.9 959.7L945.2 946.7zM963.4 933.9L975.2 946.9L963.4 959.9L951.7 946.9zM969.7 934L981.5 947L969.7 960L958 947z" fill="#ad78dd"/>
<path d="M248.7 666.5L252.7 668" fill="none" stroke="#cc9900" stroke-width="4.25" stroke-linecap="round"/>
<path d="M225.6 661.6L245.6 648.8L245.6 674.4zM255.8 673L275.8 660.2L275.8 685.8zM282 680.3L302 667.5L302 693.1zM305.2 686.9L325.2 674.1L325.2 699.7zM326 695.6L346 682.8L346 708.4zM344.8 705.4L364.8 692.6L364.8 718.2zM362 714.5L382 701.7L382 727.3zM377.9 723.8L397.9 711L397.9 736.6zM392.6 732.7L412.6 719.9L412.6 745.5zM406.2 741.9L426.2 729.1L426.2 754.7zM419.1 751.3L439.1 738.5L439.1 764.1zM431.1 759.5L451.1 746.7L451.1 772.3zM442.5 765.9L462.5 753.1L462.5 778.7zM453.2 771.9L473.2 759.1L473.2 784.7zM471.7 783.8L491.7 771L491.7 796.6zM488.6 794.7L508.6 781.9L508.6 807.5zM504.3 804.4L524.3 791.6L524.3 817.2zM518.7 813.6L538.7 800.8L538.7 826.4zM532.2 821.4L552.2 808.6L552.2 834.2zM544.9 827.8L564.9 815L564.9 840.6zM556.8 833.8L576.8 821L576.8 846.6zM568 838.2L588 825.4L588 851zM578.7 842.1L598.7 829.3L598.7 854.9zM588.8 845.8L608.8 833L608.8 858.6zM598.4 849.3L618.4 836.5L618.4 862.1zM607.6 852.6L627.6 839.8L627.6 865.4zM616.3 855.9L636.3 843.1L636.3 868.7zM624.8 859.3L644.8 846.5L644.8 872.1zM632.8 862.6L652.8 849.8L652.8 875.4zM640.6 866.2L660.6 853.4L660.6 879zM648 869.7L668 856.9L668 882.5zM655.2 873L675.2 860.2L675.2 885.8zM662.2 875.9L682.2 863.1L682.2 888.7zM673.2 880L693.2 867.2L693.2 892.8zM685.7 884.3L705.7 871.5L705.7 897.1zM697.5 888.6L717.5 875.8L717.5 901.4zM708.7 892.6L728.7 879.8L728.7 905.4zM719.2 896.4L739.2 883.6L739.2 909.2zM729.2 900L749.2 887.2L749.2 912.8zM738.8 903.3L758.8 890.5L758.8 916.1zM747.9 906.3L767.9 893.5L767.9 919.1zM756.6 908.7L776.6 895.9L776.6 921.5zM765 910.8L785 898L785 923.6zM773 912.8L793 900L793 925.6zM780.7 914.7L800.7 901.9L800.7 927.5zM788.1 916.5L808.1 903.7L808.1 929.3zM795.3 918.2L815.3 905.4L815.3 931zM802.2 919.9L822.2 907.1L822.2 932.7zM808.9 921.5L828.9 908.7L828.9 934.3zM815.3 923L835.3 910.2L835.3 935.8zM821.6 924.4L841.6 911.6L841.6 937.2zM827.7 925.8L847.7 913L847.7 938.6zM833.5 927.1L853.5 914.3L853.5 939.9zM839.3 928.4L859.3 915.6L859.3 941.2zM844.8 929.7L864.8 916.9L864.8 942.5zM850.3 931L870.3 918.2L870.3 943.8zM855.5 932.2L875.5 919.4L875.5 945zM860.7 933.3L880.7 920.5L880.7 946.1zM865.7 934.4L885.7 921.6L885.7 947.2zM870.6 935.5L890.6 922.7L890.6 948.3zM875.3 936.4L895.3 923.6L895.3 949.2zM880 937.2L900 924.4L900 950zM884.6 938L904.6 925.2L904.6 950.8zM889 938.7L909 925.9L909 951.5zM893.4 939.3L913.4 926.5L913.4 952.1zM897.6 940L917.6 927.2L917.6 952.8zM901.8 940.6L921.8 927.8L921.8 953.4zM905.9 941.1L925.9 928.3L925.9 953.9zM909.9 941.6L929.9 928.8L929.9 954.4zM918.6 942.5L938.6 929.7L938.6 955.3zM926.1 943.2L946.1 930.4L946.1 956zM933.3 943.7L953.3 930.9L953.3 956.5zM940.2 944.1L960.2 931.3L960.2 956.9zM946.9 944.4L966.9 931.6L966.9 957.2zM953.4 944.7L973.4 931.9L973.4 957.5zM959.7 944.9L979.7 932.1L979.7 957.7z" fill="#cc9900"/>
<path d="M253.8 644.2L232.8 631.2L232.8 657.2zM269.9 647.4L248.9 634.4L248.9 660.4zM284.9 648.6L263.9 635.6L263.9 661.6zM298.8 649.1L277.8 636.1L277.8 662.1zM311.8 650.2L290.8 637.2L290.8 663.2zM334 651.6L313 638.6L313 664.6zM354 656.7L333 643.7L333 669.7zM372.2 661.1L351.2 648.1L351.2 674.1zM388.8 666.4L367.8 653.4L367.8 679.4zM404.2 673.2L383.2 660.2L383.2 686.2zM418.5 679.8L397.5 666.8L397.5 692.8zM431.8 687.9L410.8 674.9L410.8 700.9zM444.3 695.3L423.3 682.3L423.3 708.3zM456.1 702.6L435.1 689.6L435.1 715.6zM467.2 710.1L446.2 697.1L446.2 723.1zM477.7 718.8L456.7 705.8L456.7 731.8zM495.9 730.8L474.9 717.8L474.9 743.8zM512.5 742.7L491.5 729.7L491.5 755.7zM527.9 755.5L506.9 742.5L506.9 768.5zM542.1 767L521.1 754L521.1 780zM555.5 777.4L534.5 764.4L534.5 790.4zM568 787.5L547 774.5L547 800.5zM579.7 795.6L558.7 782.6L558.7 808.6zM590.8 802.8L569.8 789.8L569.8 815.8zM601.3 811.3L580.3 798.3L580.3 824.3zM611.3 820.1L590.3 807.1L590.3 833.1zM620.9 827.1L599.9 814.1L599.9 840.1zM629.9 833.3L608.9 820.3L608.9 846.3zM638.6 838.9L617.6 825.9L617.6 851.9zM647 844.4L626 831.4L626 857.4zM655 849.7L634 836.7L634 862.7zM662.7 854.7L641.7 841.7L641.7 867.7zM670.1 859.2L649.1 846.2L649.1 872.2zM677.2 863.1L656.2 850.1L656.2 876.1zM684.1 866.2L663.1 853.2L663.1 879.2zM693.7 870L672.7 857L672.7 883zM706.2 874.8L685.2 861.8L685.2 887.8zM718 879.1L697 866.1L697 892.1zM729.2 883.3L708.2 870.3L708.2 896.3zM739.7 887.3L718.7 874.3L718.7 900.3zM749.7 891.2L728.7 878.2L728.7 904.2zM759.3 894.8L738.3 881.8L738.3 907.8zM768.4 898.1L747.4 885.1L747.4 911.1zM777.1 900.9L756.1 887.9L756.1 913.9zM785.5 903.5L764.5 890.5L764.5 916.5zM793.5 906.1L772.5 893.1L772.5 919.1zM801.2 908.8L780.2 895.8L780.2 921.8zM808.6 911.6L787.6 898.6L787.6 924.6zM815.8 914.3L794.8 901.3L794.8 927.3zM822.7 916.8L801.7 903.8L801.7 929.8zM829.4 919.3L808.4 906.3L808.4 932.3zM835.8 921.5L814.8 908.5L814.8 934.5zM842.1 923.6L821.1 910.6L821.1 936.6zM848.2 925.4L827.2 912.4L827.2 938.4zM854 927L833 914L833 940zM859.8 928.5L838.8 915.5L838.8 941.5zM865.3 930L844.3 917L844.3 943zM870.8 931.3L849.8 918.3L849.8 944.3zM876 932.6L855 919.6L855 945.6zM881.2 933.8L860.2 920.8L860.2 946.8zM886.2 934.9L865.2 921.9L865.2 947.9zM891.1 935.9L870.1 922.9L870.1 948.9zM895.8 936.9L874.8 923.9L874.8 949.9zM900.5 937.8L879.5 924.8L879.5 950.8zM905.1 938.7L884.1 925.7L884.1 951.7zM909.5 939.4L888.5 926.4L888.5 952.4zM913.9 940.2L892.9 927.2L892.9 953.2zM918.1 940.9L897.1 927.9L897.1 953.9zM922.3 941.6L901.3 928.6L901.3 954.6zM926.4 942.2L905.4 929.2L905.4 955.2zM930.4 942.8L909.4 929.8L909.4 955.8zM939.1 944L918.1 931L918.1 957zM946.6 944.8L925.6 931.8L925.6 957.8zM953.8 945.4L932.8 932.4L932.8 958.4zM960.7 945.9L939.7 932.9L939.7 958.9zM967.4 946.4L946.4 933.4L946.4 959.4zM973.9 946.8L952.9 933.8L952.9 959.8zM980.2 947L959.2 934L959.2 960z" fill="#00cccc"/>
</g>
<g stroke="#ff00ff" stroke-width="4.8" fill="none">
<path d="M135 691.2L707 918"/><path d="M129 733.5L703 913"/><path d="M132 782.4L690 914"/>
</g>
<rect x="376.5" y="617.6" width="2.8" height="16.6" fill="#00cccc"/>
<path d="M365.3 633.7L390.5 633.7L377.9 654.9z" fill="#00cccc"/>
<g clip-path="url(#cc)">
<path d="M124.8 1354.3h20v19h-20zM130.5 1354.7h20v19h-20zM136.3 1355.1h20v19h-20zM142 1355.4h20v19h-20zM147.7 1355.4h20v19h-20zM153.5 1354.7h20v19h-20zM159.2 1353h20v19h-20zM165 1350.9h20v19h-20zM170.7 1348.9h20v19h-20zM176.4 1347.1h20v19h-20zM182.2 1346.6h20v19h-20zM187.9 1346.4h20v19h-20zM193.7 1346.4h20v19h-20zM199.4 1346.6h20v19h-20zM205.1 1346.9h20v19h-20zM210.9 1347h20v19h-20zM216.6 1347h20v19h-20zM222.4 1347h20v19h-20zM228.1 1346.8h20v19h-20zM233.8 1346.3h20v19h-20zM239.6 1345.7h20v19h-20zM245.3 1344.7h20v19h-20zM251.1 1343.6h20v19h-20zM256.8 1342.4h20v19h-20zM262.5 1341.1h20v19h-20zM268.3 1339.9h20v19h-20zM274 1338.8h20v19h-20zM279.8 1338h20v19h-20zM285.5 1337.3h20v19h-20zM291.2 1336.6h20v19h-20zM297 1336h20v19h-20zM302.7 1335.4h20v19h-20zM308.5 1334.6h20v19h-20zM314.2 1333.6h20v19h-20zM319.9 1332.4h20v19h-20zM325.7 1330.9h20v19h-20zM331.4 1329.2h20v19h-20zM337.2 1327.3h20v19h-20zM342.9 1325.3h20v19h-20zM348.6 1323.3h20v19h-20zM354.4 1321.5h20v19h-20zM360.1 1319.8h20v19h-20zM365.9 1318.4h20v19h-20zM371.6 1317.2h20v19h-20zM377.3 1316.2h20v19h-20zM383.1 1315.3h20v19h-20zM388.8 1314.4h20v19h-20zM394.6 1313.4h20v19h-20zM400.3 1312.3h20v19h-20zM406 1310.9h20v19h-20zM411.8 1309.3h20v19h-20zM417.5 1307.5h20v19h-20zM423.3 1305.5h20v19h-20zM429 1303.4h20v19h-20zM434.7 1301.4h20v19h-20zM440.5 1299.5h20v19h-20zM446.2 1297.8h20v19h-20zM451.9 1296.2h20v19h-20zM457.7 1294.9h20v19h-20zM463.4 1293.8h20v19h-20zM469.2 1292.8h20v19h-20z" fill="#545454"/>
<path d="M123.1 1361.4L145.1 1348.6L145.1 1374.2zM125.7 1355.2L147.7 1342.4L147.7 1368zM128.3 1360.8L150.3 1348L150.3 1373.6zM130.9 1353.7L152.9 1340.9L152.9 1366.5zM133.5 1359.7L155.5 1346.9L155.5 1372.5zM136.1 1352.1L158.1 1339.3L158.1 1364.9zM138.8 1358.2L160.8 1345.4L160.8 1371zM141.4 1350.4L163.4 1337.6L163.4 1363.2zM144 1356.2L166 1343.4L166 1369zM146.6 1348.5L168.6 1335.7L168.6 1361.3zM149.2 1353.8L171.2 1341L171.2 1366.6zM151.8 1346.7L173.8 1333.9L173.8 1359.5zM154.4 1350.7L176.4 1337.9L176.4 1363.5zM157 1343.6L179 1330.8L179 1356.4zM159.6 1346L181.6 1333.2L181.6 1358.8zM162.2 1339.2L184.2 1326.4L184.2 1352zM164.8 1340.6L186.8 1327.8L186.8 1353.4zM167.5 1334.6L189.5 1321.8L189.5 1347.4zM170.1 1335.6L192.1 1322.8L192.1 1348.4zM172.7 1330.7L194.7 1317.9L194.7 1343.5zM175.3 1331.9L197.3 1319.1L197.3 1344.7zM177.9 1327.5L199.9 1314.7L199.9 1340.3zM180.5 1328.7L202.5 1315.9L202.5 1341.5zM183.1 1324.2L205.1 1311.4L205.1 1337zM185.7 1325.7L207.7 1312.9L207.7 1338.5zM188.3 1320.5L210.3 1307.7L210.3 1333.3zM190.9 1322.2L212.9 1309.4L212.9 1335zM193.5 1315.9L215.5 1303.1L215.5 1328.7zM196.2 1318.2L218.2 1305.4L218.2 1331zM198.8 1311L220.8 1298.2L220.8 1323.8zM201.4 1314.1L223.4 1301.3L223.4 1326.9zM204 1306L226 1293.2L226 1318.8zM206.6 1309.9L228.6 1297.1L228.6 1322.7zM209.2 1301.2L231.2 1288.4L231.2 1314zM211.8 1305.6L233.8 1292.8L233.8 1318.4zM214.4 1296.6L236.4 1283.8L236.4 1309.4zM217 1301.3L239 1288.5L239 1314.1zM219.6 1292.2L241.6 1279.4L241.6 1305zM222.2 1296.9L244.2 1284.1L244.2 1309.7zM224.9 1288.5L246.9 1275.7L246.9 1301.3zM227.5 1292.8L249.5 1280L249.5 1305.6zM230.1 1285L252.1 1272.2L252.1 1297.8zM232.7 1288.4L254.7 1275.6L254.7 1301.2zM235.3 1281.4L257.3 1268.6L257.3 1294.2zM237.9 1283.9L259.9 1271.1L259.9 1296.7zM240.5 1277.6L262.5 1264.8L262.5 1290.4zM243.1 1279.2L265.1 1266.4L265.1 1292zM245.7 1273.6L267.7 1260.8L267.7 1286.4zM248.3 1274.6L270.3 1261.8L270.3 1287.4zM250.9 1269.5L272.9 1256.7L272.9 1282.3zM253.6 1270.1L275.6 1257.3L275.6 1282.9zM256.2 1265.1L278.2 1252.3L278.2 1277.9zM258.8 1265.7L280.8 1252.9L280.8 1278.5zM261.4 1260.6L283.4 1247.8L283.4 1273.4zM264 1261.6L286 1248.8L286 1274.4zM266.6 1256L288.6 1243.2L288.6 1268.8zM269.2 1257.8L291.2 1245L291.2 1270.6zM271.8 1251.5L293.8 1238.7L293.8 1264.3zM274.4 1254.2L296.4 1241.4L296.4 1267zM277 1247.1L299 1234.3L299 1259.9zM279.6 1250.8L301.6 1238L301.6 1263.6zM282.3 1243L304.3 1230.2L304.3 1255.8zM284.9 1247.4L306.9 1234.6L306.9 1260.2zM287.5 1239L309.5 1226.2L309.5 1251.8zM290.1 1244L312.1 1231.2L312.1 1256.8zM292.7 1235.3L314.7 1222.5L314.7 1248.1zM295.3 1240.4L317.3 1227.6L317.3 1253.2zM297.9 1231.8L319.9 1219L319.9 1244.6zM300.5 1236.7L322.5 1223.9L322.5 1249.5zM303.1 1228.5L325.1 1215.7L325.1 1241.3zM305.7 1232.8L327.7 1220L327.7 1245.6zM308.3 1225.2L330.3 1212.4L330.3 1238zM311 1228.6L333 1215.8L333 1241.4zM313.6 1221.8L335.6 1209L335.6 1234.6zM316.2 1224.3L338.2 1211.5L338.2 1237.1zM318.8 1218.2L340.8 1205.4L340.8 1231zM321.4 1219.7L343.4 1206.9L343.4 1232.5zM324 1214.2L346 1201.4L346 1227zM326.6 1215L348.6 1202.2L348.6 1227.8zM329.2 1209.8L351.2 1197L351.2 1222.6zM331.8 1210.3L353.8 1197.5L353.8 1223.1zM334.4 1205.2L356.4 1192.4L356.4 1218zM337 1205.7L359 1192.9L359 1218.5zM339.6 1200.3L361.6 1187.5L361.6 1213.1zM342.3 1201.3L364.3 1188.5L364.3 1214.1zM344.9 1195.3L366.9 1182.5L366.9 1208.1zM347.5 1197.1L369.5 1184.3L369.5 1209.9zM350.1 1190.4L372.1 1177.6L372.1 1203.2zM352.7 1193.1L374.7 1180.3L374.7 1205.9zM355.3 1185.6L377.3 1172.8L377.3 1198.4zM357.9 1189.2L379.9 1176.4L379.9 1202zM360.5 1181L382.5 1168.2L382.5 1193.8zM363.1 1185.4L385.1 1172.6L385.1 1198.2zM365.7 1176.7L387.7 1163.9L387.7 1189.5zM368.3 1181.5L390.3 1168.7L390.3 1194.3zM371 1172.7L393 1159.9L393 1185.5zM373.6 1177.7L395.6 1164.9L395.6 1190.5zM376.2 1169L398.2 1156.2L398.2 1181.8zM378.8 1173.7L400.8 1160.9L400.8 1186.5zM381.4 1165.5L403.4 1152.7L403.4 1178.3zM384 1169.6L406 1156.8L406 1182.4zM386.6 1162.2L408.6 1149.4L408.6 1175zM389.2 1165.5L411.2 1152.7L411.2 1178.3zM391.8 1159.3L413.8 1146.5L413.8 1172.1zM394.4 1162L416.4 1149.2L416.4 1174.8zM397 1156.6L419 1143.8L419 1169.4zM399.7 1158.7L421.7 1145.9L421.7 1171.5zM402.3 1153.9L424.3 1141.1L424.3 1166.7zM404.9 1155.4L426.9 1142.6L426.9 1168.2zM407.5 1151.1L429.5 1138.3L429.5 1163.9zM410.1 1152.3L432.1 1139.5L432.1 1165.1zM412.7 1148L434.7 1135.2L434.7 1160.8zM415.3 1149.4L437.3 1136.6L437.3 1162.2zM417.9 1144.7L439.9 1131.9L439.9 1157.5zM420.5 1146.4L442.5 1133.6L442.5 1159.2zM423.1 1140.9L445.1 1128.1L445.1 1153.7zM425.7 1143.3L447.7 1130.5L447.7 1156.1zM428.4 1137L450.4 1124.2L450.4 1149.8zM431 1140.3L453 1127.5L453 1153.1zM433.6 1133.2L455.6 1120.4L455.6 1146zM436.2 1137.4L458.2 1124.6L458.2 1150.2zM438.8 1129.5L460.8 1116.7L460.8 1142.3zM441.4 1134.4L463.4 1121.6L463.4 1147.2zM444 1126.2L466 1113.4L466 1139zM446.6 1131.4L468.6 1118.6L468.6 1144.2zM449.2 1123L471.2 1110.2L471.2 1135.8zM451.8 1128.3L473.8 1115.5L473.8 1141.1zM454.4 1119.9L476.4 1107.1L476.4 1132.7zM457.1 1124.8L479.1 1112L479.1 1137.6zM459.7 1117L481.7 1104.2L481.7 1129.8zM462.3 1121.2L484.3 1108.4L484.3 1134zM464.9 1114.1L486.9 1101.3L486.9 1126.9zM467.5 1117.4L489.5 1104.6L489.5 1130.2zM470.1 1111.1L492.1 1098.3L492.1 1123.9z" fill="#cc9900"/>
<path d="M111.3 1375.5L116.1 1373.6L120.8 1371.3L125.6 1368.7L130.3 1366.1L135.1 1363.3L139.8 1360.5L144.6 1357.6L149.3 1354.7L154.1 1351.6L158.9 1348.6L163.6 1345.5L168.4 1342.3L173.1 1339.2L177.9 1335.9L182.6 1332.7L187.4 1329.4L192.1 1326.1L196.9 1322.7L201.7 1319.4L206.4 1316L211.2 1312.5L215.9 1309.1L220.7 1305.6L225.4 1302.1L230.2 1298.6L234.9 1295.1L239.7 1291.5L244.5 1288L249.2 1284.4L254 1280.8L258.7 1277.2L263.5 1273.5L268.2 1269.9L273 1266.2L277.7 1262.5L282.5 1258.8L287.3 1255.1L292 1251.3L296.8 1247.6L301.5 1243.8L306.3 1240L311 1236.3L315.8 1232.5L320.5 1228.6L325.3 1224.8L330.1 1221L334.8 1217.1L339.6 1213.3L344.3 1209.4L349.1 1205.5L353.8 1201.6L358.6 1197.7L363.3 1193.8L368.1 1189.8L372.9 1185.9L377.6 1181.9L382.4 1178L387.1 1174L391.9 1170L396.6 1166L401.4 1162L406.2 1158L410.9 1154L415.7 1149.9L420.4 1145.9L425.2 1141.9L429.9 1137.8L434.7 1133.7L439.4 1129.7L444.2 1125.6L449 1121.5L453.7 1117.4L458.5 1113.3L463.2 1109.2L468 1105L472.7 1100.9L477.5 1096.8L482.2 1092.6L487 1088.4" fill="none" stroke="#ff0000" stroke-width="4.4"/>
<path d="M111.3 1364.5L116.1 1364.5L120.8 1364.4L125.6 1364.4L130.3 1364.3L135.1 1364.1L139.8 1364L144.6 1363.8L149.3 1363.6L154.1 1363.4L158.9 1363.1L163.6 1362.9L168.4 1362.6L173.1 1362.2L177.9 1361.9L182.6 1361.5L187.4 1361.2L192.1 1360.8L196.9 1360.3L201.7 1359.9L206.4 1359.4L211.2 1358.9L215.9 1358.4L220.7 1357.9L225.4 1357.4L230.2 1356.8L234.9 1356.2L239.7 1355.6L244.5 1354.9L249.2 1354.3L254 1353.6L258.7 1352.9L263.5 1352.2L268.2 1351.5L273 1350.7L277.7 1350L282.5 1349.2L287.3 1348.4L292 1347.5L296.8 1346.7L301.5 1345.8L306.3 1344.9L311 1344L315.8 1343.1L320.5 1342.1L325.3 1341.2L330.1 1340.2L334.8 1339.2L339.6 1338.2L344.3 1337.1L349.1 1336.1L353.8 1335L358.6 1333.9L363.3 1332.8L368.1 1331.7L372.9 1330.5L377.6 1329.3L382.4 1328.1L387.1 1326.9L391.9 1325.7L396.6 1324.5L401.4 1323.2L406.2 1321.9L410.9 1320.6L415.7 1319.3L420.4 1318L425.2 1316.6L429.9 1315.2L434.7 1313.8L439.4 1312.4L444.2 1311L449 1309.5L453.7 1308.1L458.5 1306.6L463.2 1305.1L468 1303.6L472.7 1302L477.5 1300.5L482.2 1298.9L487 1297.3" fill="none" stroke="#ff0000" stroke-width="4.4"/>
</g>
<g clip-path="url(#cd)">
<path d="M606.4 1397.9h19.5v19h-19.5zM612.1 1398.7h19.5v19h-19.5zM617.8 1399.4h19.5v19h-19.5zM623.5 1399.9h19.5v19h-19.5zM629.3 1400.1h19.5v19h-19.5zM635 1400h19.5v19h-19.5zM640.7 1399.6h19.5v19h-19.5zM646.4 1398.1h19.5v19h-19.5zM652.2 1396.5h19.5v19h-19.5zM657.9 1394.9h19.5v19h-19.5zM663.6 1392.8h19.5v19h-19.5zM669.3 1390.3h19.5v19h-19.5zM675.1 1387.7h19.5v19h-19.5zM680.8 1385.2h19.5v19h-19.5zM686.5 1382.9h19.5v19h-19.5zM692.3 1381.3h19.5v19h-19.5zM698 1380.6h19.5v19h-19.5zM703.7 1379.8h19.5v19h-19.5zM709.4 1378.8h19.5v19h-19.5zM715.2 1377.4h19.5v19h-19.5zM720.9 1375.8h19.5v19h-19.5zM726.6 1373.9h19.5v19h-19.5zM732.3 1371.7h19.5v19h-19.5zM738.1 1369.5h19.5v19h-19.5zM743.8 1367.3h19.5v19h-19.5zM749.5 1365.2h19.5v19h-19.5zM755.2 1363h19.5v19h-19.5zM761 1361h19.5v19h-19.5zM766.7 1359.3h19.5v19h-19.5zM772.4 1357.9h19.5v19h-19.5zM778.1 1356.5h19.5v19h-19.5zM783.9 1355.1h19.5v19h-19.5zM789.6 1353.5h19.5v19h-19.5zM795.3 1351.7h19.5v19h-19.5zM801.1 1349.5h19.5v19h-19.5zM806.8 1347.1h19.5v19h-19.5zM812.5 1344.3h19.5v19h-19.5zM818.2 1341.2h19.5v19h-19.5zM824 1338h19.5v19h-19.5zM829.7 1334.8h19.5v19h-19.5zM835.4 1331.6h19.5v19h-19.5zM841.1 1328.5h19.5v19h-19.5zM846.9 1325.6h19.5v19h-19.5zM852.6 1322.8h19.5v19h-19.5zM858.3 1320.2h19.5v19h-19.5zM864 1317.6h19.5v19h-19.5zM869.8 1314.9h19.5v19h-19.5zM875.5 1312.1h19.5v19h-19.5zM881.2 1309.1h19.5v19h-19.5zM887 1305.8h19.5v19h-19.5zM892.7 1302.2h19.5v19h-19.5zM898.4 1298.3h19.5v19h-19.5zM904.1 1294.1h19.5v19h-19.5zM909.9 1289.7h19.5v19h-19.5zM915.6 1285.4h19.5v19h-19.5zM921.3 1281.2h19.5v19h-19.5zM927 1277.2h19.5v19h-19.5zM932.8 1273.5h19.5v19h-19.5zM938.5 1270.1h19.5v19h-19.5zM944.2 1266.9h19.5v19h-19.5zM949.9 1263.8h19.5v19h-19.5zM955.7 1260.6h19.5v19h-19.5zM961.4 1257.4h19.5v19h-19.5zM967.1 1254h19.5v19h-19.5zM972.9 1250.3h19.5v19h-19.5z" fill="#545454"/>
<path d="M598 1405.2L618.5 1392.7L618.5 1417.7zM603.2 1402.3L623.7 1389.8L623.7 1414.8zM608.5 1399.4L629 1386.9L629 1411.9zM613.7 1396.6L634.2 1384.1L634.2 1409.1zM618.9 1393.7L639.4 1381.2L639.4 1406.2zM624.1 1390.6L644.6 1378.1L644.6 1403.1zM629.3 1387.1L649.8 1374.6L649.8 1399.6zM634.5 1383.5L655 1371L655 1396zM639.7 1379.6L660.2 1367.1L660.2 1392.1zM644.9 1375.8L665.4 1363.3L665.4 1388.3zM650.1 1372L670.6 1359.5L670.6 1384.5zM655.3 1368.4L675.8 1355.9L675.8 1380.9zM660.5 1365.1L681 1352.6L681 1377.6zM665.7 1362.1L686.2 1349.6L686.2 1374.6zM670.9 1359.1L691.4 1346.6L691.4 1371.6zM676.1 1355.8L696.6 1343.3L696.6 1368.3zM681.3 1352.6L701.8 1340.1L701.8 1365.1zM686.5 1349.4L707 1336.9L707 1361.9zM691.8 1346L712.3 1333.5L712.3 1358.5zM697 1342.3L717.5 1329.8L717.5 1354.8zM702.2 1338.4L722.7 1325.9L722.7 1350.9zM707.4 1334.2L727.9 1321.7L727.9 1346.7zM712.6 1329.9L733.1 1317.4L733.1 1342.4zM717.8 1325.4L738.3 1312.9L738.3 1337.9zM723 1321L743.5 1308.5L743.5 1333.5zM728.2 1316.6L748.7 1304.1L748.7 1329.1zM733.4 1312.5L753.9 1300L753.9 1325zM738.6 1308.6L759.1 1296.1L759.1 1321.1zM743.8 1305L764.3 1292.5L764.3 1317.5zM749 1301.6L769.5 1289.1L769.5 1314.1zM754.2 1298.4L774.7 1285.9L774.7 1310.9zM759.4 1295.2L779.9 1282.7L779.9 1307.7zM764.6 1292L785.1 1279.5L785.1 1304.5zM769.8 1288.6L790.3 1276.1L790.3 1301.1zM775 1284.9L795.5 1272.4L795.5 1297.4zM780.3 1281L800.8 1268.5L800.8 1293.5zM785.5 1276.9L806 1264.4L806 1289.4zM790.7 1272.6L811.2 1260.1L811.2 1285.1zM795.9 1268.3L816.4 1255.8L816.4 1280.8zM801.1 1264.1L821.6 1251.6L821.6 1276.6zM806.3 1260.1L826.8 1247.6L826.8 1272.6zM811.5 1256.2L832 1243.7L832 1268.7zM816.7 1252.7L837.2 1240.2L837.2 1265.2zM821.9 1249.3L842.4 1236.8L842.4 1261.8zM827.1 1246.3L847.6 1233.8L847.6 1258.8zM832.3 1243.3L852.8 1230.8L852.8 1255.8zM837.5 1240.4L858 1227.9L858 1252.9zM842.7 1237.4L863.2 1224.9L863.2 1249.9zM847.9 1234.2L868.4 1221.7L868.4 1246.7zM853.1 1230.8L873.6 1218.3L873.6 1243.3zM858.3 1227.1L878.8 1214.6L878.8 1239.6zM863.5 1223.1L884 1210.6L884 1235.6zM868.8 1219L889.3 1206.5L889.3 1231.5zM874 1214.8L894.5 1202.3L894.5 1227.3zM879.2 1210.7L899.7 1198.2L899.7 1223.2zM884.4 1206.7L904.9 1194.2L904.9 1219.2zM889.6 1203L910.1 1190.5L910.1 1215.5zM894.8 1199.5L915.3 1187L915.3 1212zM900 1196.2L920.5 1183.7L920.5 1208.7zM905.2 1193.2L925.7 1180.7L925.7 1205.7zM910.4 1190.3L930.9 1177.8L930.9 1202.8zM915.6 1187.4L936.1 1174.9L936.1 1199.9zM920.8 1184.4L941.3 1171.9L941.3 1196.9zM926 1181.3L946.5 1168.8L946.5 1193.8zM931.2 1177.8L951.7 1165.3L951.7 1190.3zM936.4 1174.1L956.9 1161.6L956.9 1186.6zM941.6 1170.2L962.1 1157.7L962.1 1182.7zM946.8 1166.1L967.3 1153.6L967.3 1178.6zM952.1 1162L972.6 1149.5L972.6 1174.5zM957.3 1157.9L977.8 1145.4L977.8 1170.4zM962.5 1154L983 1141.5L983 1166.5zM967.7 1150.3L988.2 1137.8L988.2 1162.8z" fill="#cc9900"/>
<path d="M614 1406L979.4 1152.1" fill="none" stroke="#ff0000" stroke-width="4.4" stroke-linecap="round"/>
<path d="M614.8 1405.2L621 1405.1L627.2 1404.9L633.3 1404.7L639.5 1404.3L645.7 1403.8L651.9 1403.3L658 1402.6L664.2 1401.9L670.4 1401.1L676.6 1400.2L682.7 1399.2L688.9 1398.1L695.1 1396.9L701.3 1395.7L707.4 1394.4L713.6 1393L719.8 1391.5L726 1389.9L732.2 1388.3L738.3 1386.5L744.5 1384.7L750.7 1382.8L756.9 1380.9L763 1378.8L769.2 1376.7L775.4 1374.5L781.6 1372.2L787.7 1369.9L793.9 1367.4L800.1 1364.9L806.3 1362.3L812.5 1359.7L818.6 1356.9L824.8 1354.1L831 1351.2L837.2 1348.3L843.3 1345.2L849.5 1342.1L855.7 1338.9L861.9 1335.7L868 1332.3L874.2 1328.9L880.4 1325.4L886.6 1321.9L892.7 1318.2L898.9 1314.5L905.1 1310.7L911.3 1306.9L917.5 1302.9L923.6 1299L929.8 1294.9L936 1290.7L942.2 1286.5L948.3 1282.2L954.5 1277.9L960.7 1273.4L966.9 1268.9L973 1264.3L979.2 1259.7" fill="none" stroke="#ff0000" stroke-width="4.4" stroke-linecap="round"/>
</g>
<g fill="none"><path d="M709.2 140.9H768.4" stroke="#545454" stroke-width="4.2" stroke-linecap="round"/>
<path d="M732.1 134.7h12.8v12.4h-12.8z" fill="#545454"/>
<path d="M709.2 173.9H768.4" stroke="#1b6ae0" stroke-width="4.2" stroke-linecap="round"/>
<path d="M731.2 173.9a7.3 7.3 0 1 0 14.6 0a7.3 7.3 0 1 0 -14.6 0z" fill="#1b6ae0"/>
<path d="M709.2 206.8H768.4" stroke="#3aab6b" stroke-width="4.2" stroke-linecap="round"/>
<path d="M738.5 196.8L747 211.8L730 211.8z" fill="#3aab6b"/>
<path d="M709.2 239.8H768.4" stroke="#f04141" stroke-width="4.2" stroke-linecap="round"/>
<path d="M738.5 249.8L747 234.8L730 234.8z" fill="#f04141"/>
<path d="M709.2 272.7H768.4" stroke="#ad78dd" stroke-width="4.2" stroke-linecap="round"/>
<path d="M738.5 263.8L745.9 272.7L738.5 281.6L731.1 272.7z" fill="#ad78dd"/>
<path d="M862 110.2H921.6" stroke="#cc9900" stroke-width="4.2" stroke-linecap="round"/>
<path d="M883.2 110.2L895.6 101.6L895.6 118.8z" fill="#cc9900"/>
<path d="M862 143.1H921.6" stroke="#00cccc" stroke-width="4.2" stroke-linecap="round"/>
<path d="M899.8 143.1L887.4 134.5L887.4 151.7z" fill="#00cccc"/>
<path d="M862 176H921.6" stroke="#7b4f4f" stroke-width="4.2" stroke-linecap="round"/>
<path d="M891.5 167.2L898.9 171.6L898.9 180.4L891.5 184.8L884.1 180.4L884.1 171.6z" fill="#7b4f4f"/>
<path d="M862 208.9H921.6" stroke="#8c8c00" stroke-width="4.2" stroke-linecap="round"/>
<path d="M891.5 199.5L894 205.5L900.4 206L895.5 210.2L897 216.5L891.5 213.1L886 216.5L887.5 210.2L882.6 206L889 205.5z" fill="#8c8c00"/>
<path d="M862 241.8H921.6" stroke="#ff6600" stroke-width="4.2" stroke-linecap="round"/>
<path d="M891.5 233.7L900 239.9L896.7 249.9L886.3 249.9L883 239.9z" fill="#ff6600"/>
<path d="M862 274.7H921.6" stroke="#6699cc" stroke-width="4.2" stroke-linecap="round"/>
<circle cx="891.5" cy="274.7" r="7.6" fill="url(#sph)"/>
<path d="M807 713.2H866" stroke="#3aab6b" stroke-width="4.25" stroke-linecap="round"/>
<path d="M836.2 699.2L849.1 720.2L823.3 720.2z" fill="#3aab6b"/>
<path d="M807 746H866" stroke="#f04141" stroke-width="4.25" stroke-linecap="round"/>
<path d="M836.2 760L849.1 739L823.3 739z" fill="#f04141"/>
<path d="M807 778.8H866" stroke="#ad78dd" stroke-width="4.25" stroke-linecap="round"/>
<path d="M836.2 765.8L848 778.8L836.2 791.8L824.5 778.8z" fill="#ad78dd"/>
<path d="M807 811.6H828M848 811.6H866" stroke="#cc9900" stroke-width="4.25" stroke-linecap="round"/>
<path d="M823.2 811.6L842.7 798.8L842.7 824.4z" fill="#cc9900"/>
<path d="M807 844.4H825.5M845 844.4H866" stroke="#00cccc" stroke-width="4.25" stroke-linecap="round"/>
<path d="M849.2 844.4L829.7 831.6L829.7 857.2z" fill="#00cccc"/>
<path d="M203 899H271.8" stroke="#ff00ff" stroke-width="4.4"/>
<path d="M364.4 914.4C360 912.6 357.6 914.4 355.2 917.4C352.8 920.4 350.6 921.9 348.8 921.5C346.8 921.1 345.9 919.4 345.9 917.4C345.9 915.4 346.8 913.7 348.8 913.3C350.6 912.9 352.8 914.4 355.2 917.4C357.6 920.4 360 922.2 364.4 920.4" stroke="#000" stroke-width="2.3"/>
<path d="M137 1123L159 1110.2L159 1135.8z" fill="#cc9900"/>
<path d="M141 1152.5h20v19h-20z" fill="#545454"/>
<path d="M644 1119.5L664.4 1107L664.4 1132z" fill="#cc9900"/>
<path d="M648 1149.4h19.4v18.6h-19.4z" fill="#545454"/></g>
<g class="tx"><text x="124.53" y="459.8" font-size="32.6" textLength="19.94" lengthAdjust="spacingAndGlyphs">0</text>
<text x="253.17" y="459.8" font-size="32.6" textLength="19.94" lengthAdjust="spacingAndGlyphs">2</text>
<text x="381.92" y="459.8" font-size="32.6" textLength="19.94" lengthAdjust="spacingAndGlyphs">4</text>
<text x="510.33" y="459.8" font-size="32.6" textLength="19.94" lengthAdjust="spacingAndGlyphs">6</text>
<text x="639.09" y="459.8" font-size="32.6" textLength="19.94" lengthAdjust="spacingAndGlyphs">8</text>
<text x="757.09" y="459.8" font-size="32.6" textLength="39.89" lengthAdjust="spacingAndGlyphs">10</text>
<text x="885.93" y="459.8" font-size="32.6" textLength="39.89" lengthAdjust="spacingAndGlyphs">12</text>
<text x="61.39" y="421.3" font-size="32.6" textLength="50.33" lengthAdjust="spacingAndGlyphs">0.0</text>
<text x="61.38" y="299.3" font-size="32.6" textLength="50.52" lengthAdjust="spacingAndGlyphs">0.3</text>
<text x="61.38" y="177.4" font-size="32.6" textLength="50.52" lengthAdjust="spacingAndGlyphs">0.6</text>
<text x="61.38" y="55.4" font-size="32.6" textLength="50.65" lengthAdjust="spacingAndGlyphs">0.9</text>
<text x="510.46" y="501.3" font-size="32.6" textLength="21.38" lengthAdjust="spacingAndGlyphs" font-style="italic">T</text>
<text x="537.90" y="501.3" font-size="32.6" textLength="49.40" lengthAdjust="spacingAndGlyphs">(K)</text>
<text transform="translate(28.6 206.7) rotate(-90)" font-size="31.5" text-anchor="middle" textLength="222" lengthAdjust="spacingAndGlyphs"><tspan font-style="italic">C</tspan>/<tspan font-style="italic">T</tspan> (J/mol/K<tspan font-size="21" dy="-11.5">2</tspan><tspan dy="11.5">)</tspan></text>
<text x="8.36" y="16.8" font-size="33" textLength="16.24" lengthAdjust="spacingAndGlyphs">a</text>
<text x="394.16" y="89.8" font-size="31" textLength="20.64" lengthAdjust="spacingAndGlyphs" font-style="italic">T</text>
<text x="410.51" y="99" font-size="22.5" textLength="15.51" lengthAdjust="spacingAndGlyphs">C</text>
<text x="717.07" y="59.9" font-size="29.5" textLength="82.87" lengthAdjust="spacingAndGlyphs">Ce(Si</text>
<text x="801.75" y="69" font-size="20.5" textLength="21.63" lengthAdjust="spacingAndGlyphs">1-</text>
<text x="826.14" y="69" font-size="20.5" textLength="10.54" lengthAdjust="spacingAndGlyphs" font-style="italic">x</text>
<text x="838.44" y="59.9" font-size="29.5" textLength="38.60" lengthAdjust="spacingAndGlyphs">Ag</text>
<text x="879.52" y="69" font-size="20.5" textLength="12.73" lengthAdjust="spacingAndGlyphs" font-style="italic">x</text>
<text x="892.60" y="59.9" font-size="29.5" textLength="11.56" lengthAdjust="spacingAndGlyphs">)</text>
<text x="905.48" y="69" font-size="20.5" textLength="46.42" lengthAdjust="spacingAndGlyphs">1.97</text>
<rect x="966" y="90.6" width="9" height="202.4" fill="#fff"/>
<text x="710.51" y="116.6" font-size="26" textLength="11.33" lengthAdjust="spacingAndGlyphs" font-style="italic">x</text>
<text x="730.08" y="119" font-size="26" textLength="16.95" lengthAdjust="spacingAndGlyphs">=</text>
<text x="775.75" y="150.2" font-size="24.8" textLength="14.89" lengthAdjust="spacingAndGlyphs">0</text>
<text x="775.74" y="183.2" font-size="24.8" textLength="52.83" lengthAdjust="spacingAndGlyphs">0.02</text>
<text x="775.74" y="216.1" font-size="24.8" textLength="52.59" lengthAdjust="spacingAndGlyphs">0.05</text>
<text x="775.74" y="249.1" font-size="24.8" textLength="52.65" lengthAdjust="spacingAndGlyphs">0.06</text>
<text x="775.74" y="282" font-size="24.8" textLength="67.69" lengthAdjust="spacingAndGlyphs">0.065</text>
<text x="928.24" y="119.5" font-size="24.8" textLength="52.83" lengthAdjust="spacingAndGlyphs">0.07</text>
<text x="928.24" y="152.4" font-size="24.8" textLength="67.69" lengthAdjust="spacingAndGlyphs">0.075</text>
<text x="928.24" y="185.3" font-size="24.8" textLength="52.63" lengthAdjust="spacingAndGlyphs">0.08</text>
<text x="928.24" y="218.2" font-size="24.8" textLength="52.74" lengthAdjust="spacingAndGlyphs">0.09</text>
<text x="928.25" y="251.1" font-size="24.8" textLength="52.51" lengthAdjust="spacingAndGlyphs">0.10</text>
<text x="928.24" y="284" font-size="24.8" textLength="52.59" lengthAdjust="spacingAndGlyphs">0.15</text>
<text x="446.04" y="1010.6" font-size="32.6" textLength="19.94" lengthAdjust="spacingAndGlyphs">1</text>
<text x="897.39" y="1010.6" font-size="32.6" textLength="39.89" lengthAdjust="spacingAndGlyphs">10</text>
<text x="61.08" y="864.3" font-size="32.6" textLength="50.52" lengthAdjust="spacingAndGlyphs">0.3</text>
<text x="61.08" y="701.8" font-size="32.6" textLength="50.52" lengthAdjust="spacingAndGlyphs">0.6</text>
<text x="518.90" y="1043" font-size="32.6" textLength="21.06" lengthAdjust="spacingAndGlyphs" font-style="italic">T</text>
<text x="545.69" y="1043" font-size="32.6" textLength="49.62" lengthAdjust="spacingAndGlyphs">(K)</text>
<text transform="translate(28.8 759.2) rotate(-90)" font-size="31.5" text-anchor="middle" textLength="244" lengthAdjust="spacingAndGlyphs"><tspan font-style="italic">ΔC</tspan>/<tspan font-style="italic">T</tspan> (J/mol/K<tspan font-size="21" dy="-11.5">2</tspan><tspan dy="11.5">)</tspan></text>
<text x="8.95" y="562" font-size="33" textLength="18.55" lengthAdjust="spacingAndGlyphs">b</text>
<text x="366.56" y="602.9" font-size="31" textLength="20.64" lengthAdjust="spacingAndGlyphs" font-style="italic">T</text>
<text x="382.91" y="612" font-size="22.5" textLength="15.51" lengthAdjust="spacingAndGlyphs">C</text>
<text x="713.42" y="609" font-size="29.5" textLength="82.87" lengthAdjust="spacingAndGlyphs">Ce(Si</text>
<text x="798.10" y="618.1" font-size="20.5" textLength="21.63" lengthAdjust="spacingAndGlyphs">1-</text>
<text x="822.49" y="618.1" font-size="20.5" textLength="10.54" lengthAdjust="spacingAndGlyphs" font-style="italic">x</text>
<text x="834.79" y="609" font-size="29.5" textLength="38.60" lengthAdjust="spacingAndGlyphs">Ag</text>
<text x="875.87" y="618.1" font-size="20.5" textLength="12.73" lengthAdjust="spacingAndGlyphs" font-style="italic">x</text>
<text x="888.95" y="609" font-size="29.5" textLength="11.56" lengthAdjust="spacingAndGlyphs">)</text>
<text x="901.83" y="618.1" font-size="20.5" textLength="46.42" lengthAdjust="spacingAndGlyphs">1.97</text>
<text x="807.91" y="688.9" font-size="26" textLength="11.42" lengthAdjust="spacingAndGlyphs" font-style="italic">x</text>
<text x="827.53" y="692.1" font-size="26" textLength="17.55" lengthAdjust="spacingAndGlyphs">=</text>
<text x="873.13" y="722.9" font-size="25.8" textLength="53.22" lengthAdjust="spacingAndGlyphs">0.05</text>
<text x="873.13" y="755.7" font-size="25.8" textLength="53.27" lengthAdjust="spacingAndGlyphs">0.06</text>
<text x="873.13" y="788.5" font-size="25.8" textLength="53.22" lengthAdjust="spacingAndGlyphs">0.65</text>
<text x="873.13" y="821.3" font-size="25.8" textLength="53.45" lengthAdjust="spacingAndGlyphs">0.07</text>
<text x="873.14" y="854.1" font-size="25.8" textLength="67.59" lengthAdjust="spacingAndGlyphs">0.075</text>
<text x="282.30" y="925.4" font-size="31.5" textLength="55.57" lengthAdjust="spacingAndGlyphs" font-style="italic">C/T</text>
<text x="378.15" y="925.4" font-size="31.5" textLength="61.95" lengthAdjust="spacingAndGlyphs">-log</text>
<text x="442.20" y="925.4" font-size="31.5" textLength="21.06" lengthAdjust="spacingAndGlyphs" font-style="italic">T</text>
<text x="101.33" y="1459.5" font-size="32.6" textLength="19.94" lengthAdjust="spacingAndGlyphs">0</text>
<text x="205.69" y="1459.5" font-size="32.6" textLength="19.94" lengthAdjust="spacingAndGlyphs">2</text>
<text x="310.16" y="1459.5" font-size="32.6" textLength="19.94" lengthAdjust="spacingAndGlyphs">4</text>
<text x="414.29" y="1459.5" font-size="32.6" textLength="19.94" lengthAdjust="spacingAndGlyphs">6</text>
<text x="69.01" y="1373.4" font-size="32.6" textLength="19.78" lengthAdjust="spacingAndGlyphs">0</text>
<text x="68.52" y="1276.8" font-size="32.6" textLength="20.75" lengthAdjust="spacingAndGlyphs">2</text>
<text x="69.63" y="1180.2" font-size="32.6" textLength="18.76" lengthAdjust="spacingAndGlyphs">4</text>
<text x="256.90" y="1501" font-size="32.6" textLength="21.06" lengthAdjust="spacingAndGlyphs" font-style="italic">T</text>
<text x="284.74" y="1501" font-size="32.6" textLength="48.51" lengthAdjust="spacingAndGlyphs">(K)</text>
<text transform="translate(27.6 1256.7) rotate(-90)" font-size="31" text-anchor="middle" textLength="198" lengthAdjust="spacingAndGlyphs"><tspan font-style="italic">ρ</tspan>−<tspan font-style="italic">ρ</tspan><tspan font-size="21" dy="6">0</tspan><tspan dy="-6">  (μΩ cm)</tspan></text>
<text x="10.60" y="1127.2" font-size="30" textLength="16.47" lengthAdjust="spacingAndGlyphs">c</text>
<text x="196.66" y="1135.2" font-size="30.5" textLength="14.49" lengthAdjust="spacingAndGlyphs" font-style="italic">x</text>
<text x="211.29" y="1135.2" font-size="30.5" textLength="78.16" lengthAdjust="spacingAndGlyphs">=0.07</text>
<text x="195.16" y="1174.3" font-size="30.5" textLength="49.31" lengthAdjust="spacingAndGlyphs">x=0</text>
<text x="201.06" y="1245" font-size="30.5" textLength="20.01" lengthAdjust="spacingAndGlyphs" font-style="italic">T</text>
<text x="224.29" y="1233" font-size="31" textLength="38.56" lengthAdjust="spacingAndGlyphs" font-family="Liberation Serif, serif">1.1</text>
<text x="332.06" y="1312" font-size="30.5" textLength="20.01" lengthAdjust="spacingAndGlyphs" font-style="italic">T</text>
<text x="355.18" y="1300" font-size="31" textLength="40.14" lengthAdjust="spacingAndGlyphs" font-family="Liberation Serif, serif">1.9</text>
<text x="604.83" y="1459.5" font-size="32.6" textLength="19.94" lengthAdjust="spacingAndGlyphs">0</text>
<text x="683.02" y="1459.5" font-size="32.6" textLength="19.94" lengthAdjust="spacingAndGlyphs">3</text>
<text x="760.89" y="1459.5" font-size="32.6" textLength="19.94" lengthAdjust="spacingAndGlyphs">6</text>
<text x="839.11" y="1459.5" font-size="32.6" textLength="19.94" lengthAdjust="spacingAndGlyphs">9</text>
<text x="906.75" y="1459.5" font-size="32.6" textLength="39.89" lengthAdjust="spacingAndGlyphs">12</text>
<text x="571.21" y="1414" font-size="32.6" textLength="19.78" lengthAdjust="spacingAndGlyphs">0</text>
<text x="570.72" y="1277.8" font-size="32.6" textLength="20.75" lengthAdjust="spacingAndGlyphs">2</text>
<text x="571.83" y="1141.6" font-size="32.6" textLength="18.76" lengthAdjust="spacingAndGlyphs">4</text>
<text x="740.87" y="1500" font-size="32.6" textLength="19.05" lengthAdjust="spacingAndGlyphs">μ</text>
<text x="758.43" y="1507.5" font-size="21" textLength="13.79" lengthAdjust="spacingAndGlyphs">0</text>
<text x="775.22" y="1500" font-size="32.6" textLength="24.15" lengthAdjust="spacingAndGlyphs" font-style="italic">H</text>
<text x="807.18" y="1500" font-size="32.6" textLength="45.63" lengthAdjust="spacingAndGlyphs">(T)</text>
<text transform="translate(543.9 1254) rotate(-90)" font-size="32" text-anchor="middle" textLength="114" lengthAdjust="spacingAndGlyphs">MR (%)</text>
<text x="517.72" y="1127.2" font-size="31" textLength="19.54" lengthAdjust="spacingAndGlyphs">d</text>
<text x="703.29" y="1131.9" font-size="30" textLength="14.84" lengthAdjust="spacingAndGlyphs" font-style="italic">x</text>
<text x="718.11" y="1131.9" font-size="30" textLength="77.43" lengthAdjust="spacingAndGlyphs">=0.07</text>
<text x="701.76" y="1171" font-size="30" textLength="49.42" lengthAdjust="spacingAndGlyphs">x=0</text>
<text x="785.69" y="1216.5" font-size="29.5" textLength="23.78" lengthAdjust="spacingAndGlyphs" font-style="italic">H</text>
<text x="812.03" y="1205" font-size="30" textLength="42.26" lengthAdjust="spacingAndGlyphs" font-family="Liberation Serif, serif">1.0</text>
<text x="828.64" y="1309.6" font-size="29.5" textLength="22.63" lengthAdjust="spacingAndGlyphs" font-style="italic">H</text>
<text x="856.18" y="1298" font-size="30" textLength="40.14" lengthAdjust="spacingAndGlyphs" font-family="Liberation Serif, serif">1.9</text></g>
</svg>
</body></html>
